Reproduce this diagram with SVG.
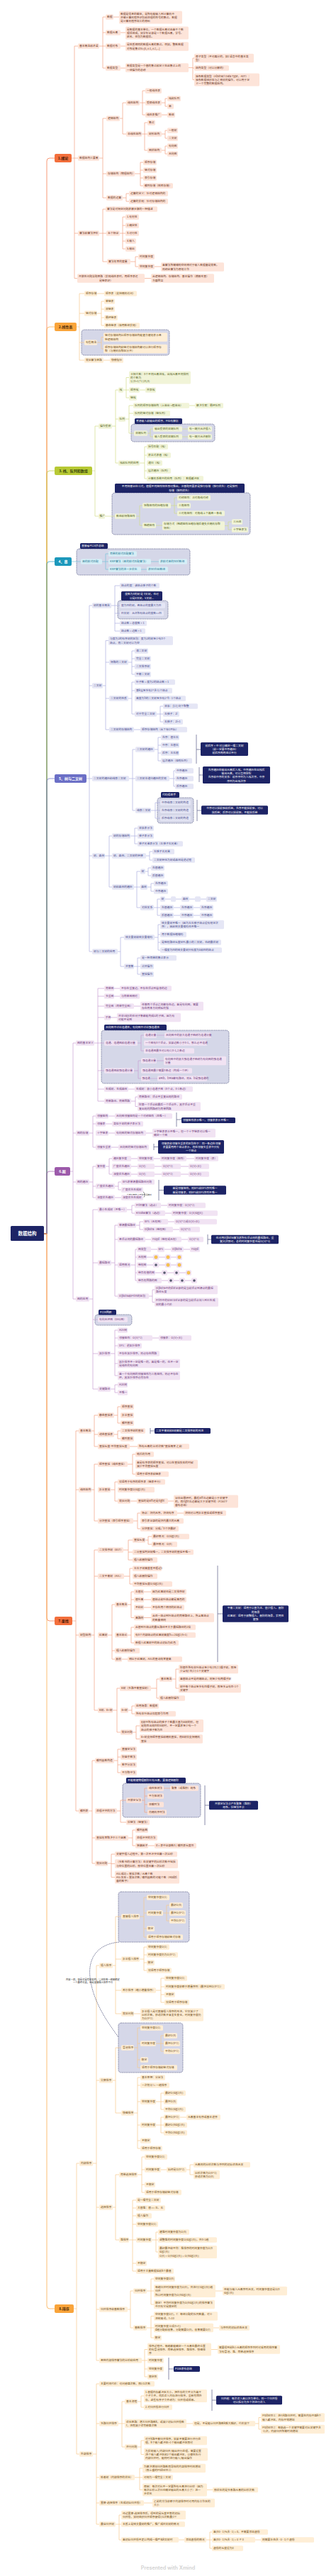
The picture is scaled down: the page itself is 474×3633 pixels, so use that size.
<svg xmlns="http://www.w3.org/2000/svg" width="474" height="3633" viewBox="0 0 474 3633">
<style>
text{font-family:"Noto Sans CJK SC","Noto Sans",sans-serif;font-size:3.8px}
.n rect{rx:1.5px}
.a1 .n rect{fill:#fde4d9}.a1 .n text{fill:#6a3320}
.a2 .n rect{fill:#feeed6}.a2 .n text{fill:#6e4a12}
.a3 .n rect{fill:#f1f4d8}.a3 .n text{fill:#55621a}
.a4 .n rect{fill:#d6eef6}.a4 .n text{fill:#1f7894}
.a5 .n rect{fill:#e5e6f5}.a5 .n text{fill:#45488a}
.a6 .n rect{fill:#f1e3f3}.a6 .n text{fill:#6e3a79}
.c rect{fill:#1d2466;rx:1.5px}.c text{fill:#fff}
.b text{font-size:5px;font-weight:bold;text-anchor:middle}
.bd{fill:#d5d7e8;stroke:#3d426f;stroke-width:.6;stroke-dasharray:1.6 .9}
#connectors path{fill:none;stroke-width:.7}
.l1{stroke:#f2a283}.l2{stroke:#f6c98c}.l3{stroke:#d3dc8a}.l4{stroke:#78c3da}.l5{stroke:#aeb0df}.l6{stroke:#c99fd2}
#summaries path{fill:none;stroke:#6d7096;stroke-width:.8}
.mid{text-anchor:middle}
.ok{fill:#f9c74f;stroke:#e09a1e;stroke-width:.4}.bad{fill:#565a6e}
</style>
<rect x="0" y="0" width="474" height="3633" fill="#fff"/>

<g id="boundaries">
<rect class="bd" x="115" y="465" width="124" height="36" rx="4"/>
<rect class="bd" x="185" y="598" width="118" height="25" rx="4"/>
<rect class="bd" x="158" y="695" width="195" height="59" rx="4"/>
<rect class="bd" x="108" y="774" width="160" height="37" rx="4"/>
<rect class="bd" x="166" y="847" width="71" height="26" rx="4"/>
<rect class="bd" x="222" y="1125" width="51" height="36" rx="4"/>
<rect class="bd" x="143" y="1453" width="180" height="75" rx="4"/>
<rect class="bd" x="134" y="1854" width="52" height="15" rx="4"/>
<rect class="bd" x="173" y="2515" width="110" height="48" rx="4"/>
<rect class="bd" x="167" y="2668" width="100" height="71" rx="4"/>
<rect class="bd" x="167" y="2853" width="91" height="70" rx="4"/>
</g>

<g id="connectors">
<path stroke="#f36f3c" stroke-width="1" d="M62 1740 H66 V227 Q66 223 70 223 H77"/>
<path stroke="#f9a43a" stroke-width="1" d="M62 1740 H66 V465 Q66 461 70 461 H77"/>
<path stroke="#b7c934" stroke-width="1" d="M62 1740 H66 V668 Q66 664 70 664 H77"/>
<path stroke="#1c98bb" stroke-width="1" d="M62 1740 H66 V796 Q66 792 70 792 H77"/>
<path stroke="#6b6fc6" stroke-width="1" d="M62 1740 H66 V1102 Q66 1098 70 1098 H77"/>
<path stroke="#9c5aaa" stroke-width="1" d="M62 1740 H66 V1656 Q66 1652 70 1652 H77"/>
<path stroke="#f36f3c" stroke-width="1" d="M62 1740 H66 V2282 Q66 2286 70 2286 H77"/>
<path stroke="#f9a43a" stroke-width="1" d="M62 1740 H66 V3252 Q66 3256 70 3256 H77"/>

<path class="l1" d="M101 223 H105 M105 65 V392.5 M105 65 H110 M105 223 H110 M105 329 H110 M105 392.5 H109
M140 65 H145 M145 24 V96 M145 24 H149 M145 46 H149 M145 65 H149 M145 96 H149
M160 24 H168 M170 46 H177 M170 65 H177 M170 96 H177
M266 95.5 H272 M272 82 V112.5 M272 82 H274 M272 96 H274 M272 112.5 H274
M140 223 H145 M145 167 V279 M145 167 H150 M145 245 H150 M145 279 H150
M169 167 H173 M173 145 V189 M173 145 H178 M173 189 H178
M197 145 H201 M201 128 V162 M201 128 H205 M201 145 H205 M201 162 H205
M228 145 H233 M233 139 V150 M233 139 H236 M233 150 H236 M228 162 H236
M200 189 H204 M204 173 V212 M204 173 H208 M204 189 H208 M204 212 H208
M228 189 H233 M233 184 V195 M233 184 H236 M233 195 H236
M228 212 H233 M233 206 V217 M233 206 H236 M233 217 H236
M190 245 H198 M198 229 V262 M198 229 H202 M198 240 H202 M198 251 H202 M198 262 H202
M173 279 H178 M178 273 V284 M178 273 H182 M178 284 H182
M140 329 H145 M145 295 V369 M145 295 H149 M145 329 H150 M145 369 H151
M169 329 H177 M173 306 V351 M173 306 H177 M173 318 H177 M173 340 H177 M173 351 H177
M184 369 H191 M191 362 V376 M191 362 H195 M191 376 H195
M218 376 H227 M204 392.5 H213"/>

<path class="l2" d="M108 461 H112 M112 414 V508 M112 414 H119 M112 442 H119 M112 483 H119 M112 508 H119
M137 414 H147 M137 442 H143 M143 425 V459 M143 425 H147 M143 436 H147 M143 448 H147 M143 459 H147
M137 483 H143 M143 475.5 V492 M143 475.5 H146 M143 492 H146 M146 508 H155"/>

<path class="l3" d="M130 664 H134 M134 601 V728 M134 601 H139 M134 728 H139
M158 601 H163 M163 550 V653 M163 550 H167 M163 591 H167 M163 653 H167
M174 550 H178 M178 532.5 V561 M178 532.5 H182 M178 550 H182 M178 561 H182 M197 550 H205
M177 591 H182 M182 572 V611 M182 572 H188 M182 583 H188 M182 611 H189 M267 572 H275
M208 611 H212 M212 605 V616 M212 605 H216 M212 616 H216 M257 605 H265 M257 616 H265
M197 653 H204 M204 630 V675 M204 630 H207 M204 642 H207 M204 664 H207 M204 675 H207
M148 728 H162 M192 728 H197 M197 713 V741 M197 713 H201 M197 741 H201
M241 713 H246 M246 702 V724 M246 702 H250 M246 713 H250 M246 724 H250
M220 741 H229 M317 741.5 H322 M322 736 V747 M322 736 H327 M322 747 H327"/>

<path class="l4" d="M101 792 H114 M144 792 H149 M149 781 V803 M149 781 H153 M149 792 H153 M149 803 H153 M213 792 H224 M199 803 H207"/>

<path class="l5" d="M122 1098 H126 M126 854 V1342 M126 854 H130 M126 967 H130 M126 1098 H130 M126 1207 H130 M126 1342 H130
M157 854 H162 M162 826 V890 M162 826 H169 M162 854 H169 M162 865 H169 M162 879 H169 M162 890 H169
M145 967 H149 M149 903.5 V1029 M149 903.5 H153 M149 934 H154 M149 985 H154 M149 1029 H154
M181 934 H186 M186 918 V951 M186 918 H190 M186 929 H190 M186 940 H190 M186 951 H190
M181 985 H186 M186 962 V1007 M186 962 H190 M186 974 H190 M186 1007 H190
M221 1007 H226 M226 996 V1018 M226 996 H230 M226 1007 H230 M226 1018 H230 M189 1029 H198
M182 1098 H187 M187 1057 V1143 M187 1057 H191 M187 1098 H191 M187 1143 H191
M218 1057 H223 M223 1040 V1073 M223 1040 H227 M223 1051 H227 M223 1062 H227 M223 1073 H227
M239 1098 H245 M245 1087 V1109 M245 1087 H247 M245 1098 H247 M245 1109 H247
M213 1143 H219 M219 1132 V1154 M219 1132 H226 M219 1143 H226 M219 1154 H226
M148 1207 H154 M154 1179 V1251 M154 1179 H158 M154 1207 H158 M154 1251 H158
M184 1179 H190 M190 1168 V1190 M190 1168 H194 M190 1179 H194 M190 1190 H194
M206 1207 H211 M211 1201 V1213 M211 1201 H215 M211 1213 H215
M189 1251 H193 M193 1229 V1280 M193 1229 H198 M193 1251 H198 M193 1280 H198
M205 1229 H209 M209 1224 V1235 M209 1224 H213 M209 1235 H213
M208 1251 H213 M213 1246 V1257 M213 1246 H217 M213 1257 H217
M217 1280 H222 M222 1268 V1291 M222 1268 H226 M222 1280 H226 M222 1291 H226
M233 1268 H241 M248 1268 H256 M267 1268 H275 M283 1268 H291
M245 1280 H254 M273 1280 H282 M245 1291 H254 M273 1291 H282
M166 1342 H170 M170 1322 V1363 M170 1322 H175 M170 1363 H175
M218 1322 H223 M223 1304 V1340 M223 1304 H226 M223 1318 H226 M223 1329 H226 M223 1340 H226
M189 1363 H194 M194 1351 V1374 M194 1351 H198 M194 1363 H198 M194 1374 H198"/>

<path class="l6" d="M99 1652 H103 M103 1471 V1832 M103 1471 H107 M103 1598 H107 M103 1667 H107 M103 1832 H107
M133 1471 H138 M138 1394 V1553 M138 1394 H147 M138 1405 H147 M138 1419 H147 M138 1435 H147 M138 1471 H147 M138 1510 H147 M138 1536 H147 M138 1553 H147
M161 1394 H169 M161 1405 H169 M189 1419 H198 M156 1435 H165
M194 1471 H199 M199 1460 V1482 M199 1460 H203 M199 1482 H203 M221 1460 H232
M189 1510 H195 M195 1496 V1521 M195 1496 H199 M195 1521 H199 M221 1496 H231 M212 1521 H222
M181 1536 H190 M185 1553 H191 M191 1547 V1560.5 M191 1547 H194 M191 1560.5 H194
M126 1598 H131 M131 1574 V1618 M131 1574 H135 M131 1585 H135 M131 1618 H135
M153 1574 H162 M149 1585 H158 M153 1598 H162 M206 1598 H215 M157 1618 H167
M126 1667 H131 M131 1645 V1689 M131 1645 H135 M131 1673 H135 M131 1689 H135
M149 1645 H154 M154 1634 V1656 M154 1634 H158 M154 1656 H158
M185 1634 H194 M217 1634 H226 M263 1634 H274
M185 1645 H194 M218 1645 H228 M255 1645 H266 M185 1656 H194 M218 1656 H228 M255 1656 H266
M162 1673 H167 M167 1667 V1678 M167 1667 H171 M167 1678 H171 M162 1689 H171
M126 1832 H131 M131 1706 V1959 M131 1706 H138 M131 1781 H138 M131 1861 H138 M131 1909 H138 M131 1959 H138
M179 1706 H186 M186 1700 V1711 M186 1700 H190 M186 1711 H190 M227 1700 H236 M233 1711 H242
M157 1781 H162 M162 1728 V1828 M162 1728 H166 M162 1748 H166 M162 1784 H166 M162 1828 H166
M192 1728 H197 M197 1723 V1734 M197 1723 H202 M197 1734 H202 M237 1723 H246 M244 1734 H253
M205 1748 H213 M256 1748 H265
M184 1784 H191 M191 1762 V1806 M191 1762 H193 M191 1773 H193 M191 1795 H193 M191 1806 H193
M213 1762 H222 M232 1762 H241 M259 1762 H268
M207 1773 H216 M224 1773 H233 M241 1773 H249 M207 1784 H216 M224 1784 H233 M241 1784 H249
M219 1795 H228 M236 1795 H245 M253 1795 H262 M228 1806 H237 M245 1806 H253 M261 1806 H270
M210 1828 H215 M215 1819 V1836.5 M215 1819 H218 M215 1836.5 H218
M156 1909 H162 M162 1876 V1940 M162 1876 H166 M162 1887 H166 M162 1898 H166 M162 1923 H166 M162 1940 H166 M215 1887 H224
M156 1959 H162 M162 1953 V1964 M162 1953 H166 M162 1964 H166"/>

<path class="l1" d="M102 2286 H107 M107 2018 V2554 M107 2018 H111 M107 2101 H111 M107 2306 H111 M107 2554 H111
M129 2018 H133 M133 1996 V2040 M133 1996 H138 M133 2023 H138 M133 2040 H138
M161 1996 H166 M166 1984 V2007 M166 1984 H170 M166 2007 H170
M161 2023 H166 M166 2018 V2029 M166 2018 H170 M166 2029 H170 M183 2040 H194
M129 2101 H133 M133 2065 V2145 M133 2065 H138 M133 2145 H138
M180 2065 H187 M187 2051 V2079 M187 2051 H191 M187 2079 H191
M156 2101 H162 M162 2090 V2117 M162 2090 H166 M162 2117 H166 M184 2117 H193 M237 2117 H245
M188 2145 H194 M194 2134 V2156 M194 2134 H198 M194 2156 H198 M250 2134 H259
M129 2306 H133 M133 2186 V2412 M133 2186 H138 M133 2223 H138 M133 2412 H138
M174 2186 H181 M181 2172 V2200 M181 2172 H187 M181 2189 H187 M181 2200 H187
M205 2172 H209 M209 2167 V2178 M209 2167 H214 M209 2178 H214
M175 2223 H183 M183 2212 V2234 M183 2212 H187 M183 2234 H187
M152 2306 H158 M158 2263 V2340 M158 2263 H162 M158 2328 H162 M158 2340 H162
M180 2263 H185 M185 2245 V2281.5 M185 2245 H189 M185 2256 H189 M185 2281.5 H189
M203 2245 H213 M203 2256 H213 M203 2267 H213 M203 2281.5 H213
M180 2306 H185 M185 2295 V2317 M185 2295 H189 M185 2317 H189 M172 2340 H180
M159 2412 H165 M165 2381 V2443 M165 2381 H169 M165 2443 H170
M213 2381 H221 M221 2368 V2395 M221 2368 H225 M221 2395 H224
M243 2368 H248 M248 2354 V2381 M248 2354 H252 M248 2381 H252
M181 2412 H186 M186 2406 V2417 M186 2406 H190 M186 2417 H190
M187 2443 H192 M192 2434 V2452.5 M192 2434 H197 M192 2452.5 H197
M125 2554 H130 M130 2483 V2628 M130 2483 H134 M130 2592 H134 M130 2628 H134
M161 2483 H166 M166 2467 V2500 M166 2467 H170 M166 2478 H170 M166 2489 H170 M166 2500 H170
M165 2554 H170 M170 2539 V2570 M170 2539 H178 M170 2570 H178
M200 2539 H204 M204 2522 V2556 M204 2522 H208 M204 2533 H208 M204 2545 H208 M204 2556 H208 M231 2522 H240
M181 2592 H187 M187 2581 V2603 M187 2581 H191 M187 2603 H191 M209 2603 H218
M152 2628 H157 M157 2615 V2647.5 M157 2615 H162 M157 2628.5 H162 M157 2647.5 H162"/>

<path class="l2" d="M104 3256 H108 M108 3051 V3461 M108 3051 H112 M108 3461 H112
M131 3051 H136 M136 2772 V3329 M136 2772 H140 M136 2934 H140 M136 3113 H140 M136 3257 H140 M136 3329 H140
M159 2772 H163 M163 2703 V2840 M163 2703 H171 M163 2763 H171 M163 2807 H171 M163 2840 H171
M197 2703 H203 M203 2676 V2732 M203 2676 H207 M203 2698 H207 M203 2720 H207 M203 2732 H207
M230 2698 H239 M235 2687 V2709 M235 2687 H239 M235 2709 H239
M197 2763 H203 M203 2746 V2779 M203 2746 H207 M203 2757 H207 M203 2768 H207 M203 2779 H207
M220 2807 H227 M227 2790 V2824 M227 2790 H232 M227 2802 H232 M227 2813 H232 M227 2824 H232
M189 2840 H198
M159 2934 H163 M163 2888 V2980 M163 2888 H171 M163 2980 H171
M189 2888 H194 M194 2860 V2916 M194 2860 H198 M194 2882 H198 M194 2905 H198 M194 2916 H198
M220 2882 H227 M227 2871 V2893 M227 2871 H231 M227 2882 H231 M227 2893 H231
M189 2980 H194 M194 2930 V3030 M194 2930 H198 M194 2941 H198 M194 2964 H198 M194 2997 H198 M194 3019 H198 M194 3030 H198
M220 2964 H227 M227 2952 V2975 M227 2952 H231 M227 2964 H231 M227 2975 H231
M220 2997 H227 M227 2986 V3008 M227 2986 H231 M227 2997 H231 M227 3008 H231 M254 2986 H263
M159 3113 H163 M163 3067 V3159 M163 3067 H168 M163 3159 H168
M194 3067 H200 M200 3042 V3092 M200 3042 H204 M200 3060 H204 M200 3081 H204 M200 3092 H204 M227 3060 H235
M263 3060 H268 M268 3053 V3067 M268 3053 H273 M268 3067 H273
M182 3159 H187 M187 3103 V3203 M187 3103 H192 M187 3114 H192 M187 3125 H192 M187 3137 H192 M187 3159 H192 M187 3192 H192 M187 3203 H192
M214 3159 H220 M220 3148 V3176 M220 3148 H223 M220 3159 H223 M220 3176 H223
M180 3257 H184 M184 3231 V3283 M184 3231 H188 M184 3283 H188
M207 3231 H213 M213 3214 V3250 M213 3214 H217 M213 3231 H217 M213 3250 H217 M304 3231 H314
M207 3283 H213 M213 3266.5 V3297 M213 3266.5 H217 M213 3283 H217 M213 3297 H217 M301 3283 H309
M200 3329 H204 M204 3313.5 V3352 M204 3313.5 H208 M204 3329 H208 M204 3341 H208 M204 3352 H208 M298 3313.5 H307
M131 3461 H136 M136 3362 V3560 M136 3362 H140 M136 3418 H140 M136 3494 H140 M136 3530 H140 M136 3560 H140
M167 3418 H172 M172 3387 V3451 M172 3387 H176 M172 3418 H176 M172 3451 H176
M194 3387 H199 M199 3379 V3395 M199 3379 H203 M199 3395 H203
M263 3418 H272 M360 3418 H365 M365 3409.5 V3426 M365 3409.5 H368 M365 3426 H368
M194 3451 H199 M199 3442 V3461.5 M199 3442 H203 M199 3461.5 H203
M190 3494 H197 M197 3481 V3511.5 M197 3481 H201 M197 3494 H201 M197 3511.5 H201 M292 3511.5 H300
M203 3530 H215
M163 3560 H168 M168 3547 V3582 M168 3547 H171 M168 3560 H171 M168 3582 H171 M252 3582 H260
M291 3582 H296 M296 3571 V3594 M296 3571 H299 M296 3582 H299 M296 3594 H299 M360 3582 H368"/>

<path stroke="#444" stroke-width=".4" d="M202 1681 C205 1683 205 1686 203 1688.5"/>
<path stroke="#3d426f" stroke-width=".6" stroke-dasharray="1.6 .9" d="M168 2739 C135 2742 122 2765 128 2795 C134 2830 158 2860 167 2873"/>
</g>

<g id="summaries">
<path d="M277 1036 V1077 M277 1057 H283"/>
<path d="M281 1082 V1103 M281 1093 H286"/>
<path d="M278 1128 V1158 M278 1143 H284"/>
<path d="M249 1569 V1589 M249 1579 H256"/>
<path d="M217 1613 V1622 M217 1617.5 H223"/>
<path d="M224 1664 V1693 M224 1678.5 H231"/>
<path d="M293 1741 V1755 M293 1748 H298"/>
<path d="M212 2014 V2022 M212 2018 H218"/>
<path d="M307 2208 V2344 M307 2276 H314"/>
<path d="M289 2518 V2574 M289 2546 H295"/>
<path d="M238 3325 V3356 M238 3341 H245"/>
<path d="M299 3370 V3400 M299 3385 H305"/>
</g>

<g id="root"><rect x="15" y="1729" width="47" height="21" rx="1.5" fill="#1d2466"/><text x="38.5" y="1742.3" text-anchor="middle" fill="#fff" style="font-size:6.5px;font-weight:bold">数据结构</text></g>

<g id="b1" class="b"><rect x="77" y="217" width="24" height="12" rx="2" fill="#f36f3c"/><text x="89" y="224.8" fill="#4a1a08">1.绪论</text></g>
<g id="b2" class="b"><rect x="77" y="455" width="31" height="12" rx="2" fill="#f9a43a"/><text x="92.5" y="462.8" fill="#4a2a08">2.线性表</text></g>
<g id="b3" class="b"><rect x="77" y="658" width="53" height="12" rx="2" fill="#b7c934"/><text x="103.5" y="665.8" fill="#33400a">3. 栈、队列和数组</text></g>
<g id="b4" class="b"><rect x="77" y="786" width="24" height="12" rx="2" fill="#1c98bb"/><text x="89" y="793.8" fill="#fff">4、串</text></g>
<g id="b5" class="b"><rect x="77" y="1092" width="45" height="12" rx="2" fill="#6b6fc6"/><text x="99.5" y="1099.8" fill="#fff">5、树与二叉树</text></g>
<g id="b6" class="b"><rect x="77" y="1646" width="22" height="12" rx="2" fill="#9c5aaa"/><text x="88" y="1653.8" fill="#fff">6.图</text></g>
<g id="b7" class="b"><rect x="77" y="2280" width="25" height="12" rx="2" fill="#f36f3c"/><text x="89.5" y="2287.8" fill="#4a1a08">7.查找</text></g>
<g id="b8" class="b"><rect x="77" y="3250" width="27" height="12" rx="2" fill="#f9a43a"/><text x="90.5" y="3257.8" fill="#4a2a08">8.排序</text></g>

<g class="a1">
<g id="n1-01" class="n"><rect x="110" y="61.3" width="30" height="7.4"/><text x="112" y="66.4">基本概念和术语</text></g>
<g id="n1-02" class="n"><rect x="110" y="219.3" width="30" height="7.4"/><text x="112" y="224.4">数据结构三要素</text></g>
<g id="n1-03" class="n"><rect x="110" y="325.3" width="30" height="7.4"/><text x="112" y="330.4">算法和算法评价</text></g>
<g id="n1-04" class="n"><rect x="109" y="386.2" width="95" height="12.6"/><text x="111" y="391.25">开放性问题答题思路（实现线性表时，用顺序表还<tspan x="140" dy="5.3">是链表好）</tspan></text></g>
<g id="n1-05" class="n"><rect x="213" y="386.2" width="89" height="12.6"/><text x="215" y="391.25">从逻辑结构、存储结构、基本操作（增删改查）<tspan x="215" dy="5.3">方面回答</tspan></text></g>
<g id="n1-06" class="n"><rect x="149" y="20.3" width="11" height="7.4"/><text x="151" y="25.4">数据</text></g>
<g id="n1-07" class="n"><rect x="168" y="15.5" width="89" height="18"/><text x="170" y="20.6">数据是信息的载体，是所有能输入到计算机中<tspan x="170" dy="5.3">并被计算机程序识别和处理的符号的集合。数据</tspan><tspan x="170" dy="5.3">是计算机程序加工的原料</tspan></text></g>
<g id="n1-08" class="n"><rect x="149" y="42.3" width="21" height="7.4"/><text x="151" y="47.4">数据元素</text></g>
<g id="n1-09" class="n"><rect x="177" y="37.5" width="89" height="18"/><text x="179" y="42.6">是数据的基本单位，一个数据元素可由若干个数<tspan x="179" dy="5.3">据项组成，如学生记录是一个数据元素，学号、</tspan><tspan x="179" dy="5.3">姓名、性别为数据项。</tspan></text></g>
<g id="n1-10" class="n"><rect x="149" y="61.3" width="21" height="7.4"/><text x="151" y="66.4">数据对象</text></g>
<g id="n1-11" class="n"><rect x="177" y="59.2" width="89" height="12.6"/><text x="179" y="64.25">是性质相同的数据元素的集合。例如，整数数据<tspan x="179" dy="5.3">对象是集合N={0,±1,±2,...}</tspan></text></g>
<g id="n1-12" class="n"><rect x="149" y="92.3" width="21" height="7.4"/><text x="151" y="97.4">数据类型</text></g>
<g id="n1-13" class="n"><rect x="177" y="89.2" width="89" height="12.6"/><text x="179" y="94.25">数据类型是一个值的集合和定义在此集合上的<tspan x="179" dy="5.3">一组操作的总称</tspan></text></g>
<g id="n1-14" class="n"><rect x="274" y="75.7" width="84" height="12.6"/><text x="276" y="80.75">原子类型（不可再分的，如C语言中的基本类<tspan x="276" dy="5.3">型）</tspan></text></g>
<g id="n1-15" class="n"><rect x="274" y="92.3" width="49" height="7.4"/><text x="276" y="97.4">结构类型（可以分解的）</text></g>
<g id="n1-16" class="n"><rect x="274" y="103.5" width="92" height="18"/><text x="276" y="108.6">抽象数据类型（Abstract Data Type，ADT）：<tspan x="276" dy="5.3">抽象数据组织及与之相关的操作，可以用于定</tspan><tspan x="276" dy="5.3">义一个完整的数据结构。</tspan></text></g>
<g id="n1-17" class="n"><rect x="150" y="163.3" width="19" height="7.4"/><text x="152" y="168.4">逻辑结构</text></g>
<g id="n1-18" class="n"><rect x="178" y="141.3" width="19" height="7.4"/><text x="180" y="146.4">线性结构</text></g>
<g id="n1-19" class="n"><rect x="205" y="124.3" width="23" height="7.4"/><text x="207" y="129.4">一般线性表</text></g>
<g id="n1-20" class="n"><rect x="205" y="141.3" width="23" height="7.4"/><text x="207" y="146.4">受限线性表</text></g>
<g id="n1-21" class="n"><rect x="236" y="135.3" width="19" height="7.4"/><text x="238" y="140.4">栈和队列</text></g>
<g id="n1-22" class="n"><rect x="236" y="146.3" width="9" height="7.4"/><text x="238" y="151.4">串</text></g>
<g id="n1-23" class="n"><rect x="205" y="158.3" width="23" height="7.4"/><text x="207" y="163.4">线性表推广</text></g>
<g id="n1-24" class="n"><rect x="236" y="158.3" width="11" height="7.4"/><text x="238" y="163.4">数组</text></g>
<g id="n1-25" class="n"><rect x="178" y="185.3" width="22" height="7.4"/><text x="180" y="190.4">非线性结构</text></g>
<g id="n1-26" class="n"><rect x="208" y="169.3" width="11" height="7.4"/><text x="210" y="174.4">集合</text></g>
<g id="n1-27" class="n"><rect x="208" y="185.3" width="20" height="7.4"/><text x="210" y="190.4">树形结构</text></g>
<g id="n1-28" class="n"><rect x="236" y="180.3" width="15" height="7.4"/><text x="238" y="185.4">一般树</text></g>
<g id="n1-29" class="n"><rect x="236" y="191.3" width="15" height="7.4"/><text x="238" y="196.4">二叉树</text></g>
<g id="n1-30" class="n"><rect x="208" y="208.3" width="20" height="7.4"/><text x="210" y="213.4">图状结构</text></g>
<g id="n1-31" class="n"><rect x="236" y="202.3" width="15" height="7.4"/><text x="238" y="207.4">有向图</text></g>
<g id="n1-32" class="n"><rect x="236" y="213.3" width="15" height="7.4"/><text x="238" y="218.4">无向图</text></g>
<g id="n1-33" class="n"><rect x="150" y="241.3" width="40" height="7.4"/><text x="152" y="246.4">存储结构（物理结构）</text></g>
<g id="n1-34" class="n"><rect x="202" y="225.3" width="19" height="7.4"/><text x="204" y="230.4">顺序存储</text></g>
<g id="n1-35" class="n"><rect x="202" y="236.3" width="19" height="7.4"/><text x="204" y="241.4">链式存储</text></g>
<g id="n1-36" class="n"><rect x="202" y="247.3" width="19" height="7.4"/><text x="204" y="252.4">索引存储</text></g>
<g id="n1-37" class="n"><rect x="202" y="258.3" width="42" height="7.4"/><text x="204" y="263.4">散列存储（哈希存储）</text></g>
<g id="n1-38" class="n"><rect x="150" y="275.3" width="23" height="7.4"/><text x="152" y="280.4">数据的运算</text></g>
<g id="n1-39" class="n"><rect x="182" y="269.3" width="55" height="7.4"/><text x="184" y="274.4">运算的定义：针对逻辑结构的</text></g>
<g id="n1-40" class="n"><rect x="182" y="280.3" width="55" height="7.4"/><text x="184" y="285.4">运算的实现：针对存储结构的</text></g>
<g id="n1-41" class="n"><rect x="149" y="291.3" width="73" height="7.4"/><text x="151" y="296.4">算法是对特定问题求解步骤的一种描述</text></g>
<g id="n1-42" class="n"><rect x="150" y="325.3" width="19" height="7.4"/><text x="152" y="330.4">五个特征</text></g>
<g id="n1-43" class="n"><rect x="177" y="302.3" width="19" height="7.4"/><text x="179" y="307.4">1.有穷性</text></g>
<g id="n1-44" class="n"><rect x="177" y="314.3" width="19" height="7.4"/><text x="179" y="319.4">2.确定性</text></g>
<g id="n1-45" class="n"><rect x="177" y="325.3" width="19" height="7.4"/><text x="179" y="330.4">3.可行性</text></g>
<g id="n1-46" class="n"><rect x="177" y="336.3" width="15" height="7.4"/><text x="179" y="341.4">4.输入</text></g>
<g id="n1-47" class="n"><rect x="177" y="347.3" width="15" height="7.4"/><text x="179" y="352.4">5.输出</text></g>
<g id="n1-48" class="n"><rect x="151" y="365.3" width="33" height="7.4"/><text x="153" y="370.4">算法效率的度量</text></g>
<g id="n1-49" class="n"><rect x="195" y="358.3" width="23" height="7.4"/><text x="197" y="363.4">时间复杂度</text></g>
<g id="n1-50" class="n"><rect x="195" y="372.3" width="23" height="7.4"/><text x="197" y="377.4">空间复杂度</text></g>
<g id="n1-51" class="n"><rect x="227" y="370.2" width="89" height="12.6"/><text x="229" y="375.25">若算法所需辅助空间相对于输入数据量是常数，<tspan x="229" dy="5.3">则称此算法为原地工作</tspan></text></g>
</g>

<g class="a2">
<g id="n2-01" class="n"><rect x="119" y="410.3" width="18" height="7.4"/><text x="121" y="415.4">顺序存储</text></g>
<g id="n2-02" class="n"><rect x="147" y="410.3" width="46" height="7.4"/><text x="149" y="415.4">顺序表（支持随机访问）</text></g>
<g id="n2-03" class="n"><rect x="119" y="438.3" width="18" height="7.4"/><text x="121" y="443.4">链式存储</text></g>
<g id="n2-04" class="n"><rect x="147" y="421.3" width="15" height="7.4"/><text x="149" y="426.4">单链表</text></g>
<g id="n2-05" class="n"><rect x="147" y="432.3" width="15" height="7.4"/><text x="149" y="437.4">双链表</text></g>
<g id="n2-06" class="n"><rect x="147" y="444.3" width="19" height="7.4"/><text x="149" y="449.4">循环链表</text></g>
<g id="n2-07" class="n"><rect x="147" y="455.3" width="50" height="7.4"/><text x="149" y="460.4">静态链表（借用数组实现）</text></g>
<g id="n2-08" class="n"><rect x="119" y="479.3" width="18" height="7.4"/><text x="121" y="484.4">有些概念</text></g>
<g id="n2-09" class="n"><rect x="146" y="469.2" width="90" height="12.6"/><text x="148" y="474.25">链式存储结构比顺序存储结构能更方便地表示各<tspan x="148" dy="5.3">种逻辑结构</tspan></text></g>
<g id="n2-10" class="n"><rect x="146" y="485.7" width="90" height="12.6"/><text x="148" y="490.75">顺序存储结构和链式存储结构都可以进行顺序存<tspan x="148" dy="5.3">取（与随机存取区分开）</tspan></text></g>
<g id="n2-11" class="n"><rect x="119" y="504.3" width="27" height="7.4"/><text x="121" y="509.4">常见算法思路</text></g>
<g id="n2-12" class="n"><rect x="155" y="504.3" width="19" height="7.4"/><text x="157" y="509.4">快慢指针</text></g>
</g>

<g class="a3">
<g id="n3-01" class="n"><rect x="139" y="597.3" width="19" height="7.4"/><text x="141" y="602.4">操作受限</text></g>
<g id="n3-02" class="n"><rect x="167" y="546.3" width="7" height="7.4"/><text x="168.6" y="551.4">栈</text></g>
<g id="n3-03" class="n"><rect x="182" y="523.5" width="87" height="18"/><text x="184" y="528.6">卡特兰数：n个不同元素进栈，出栈元素不同排列<tspan x="184" dy="5.3">的个数为</tspan><tspan x="184" dy="5.3">1/(n+1)*C(2n,n)</tspan></text></g>
<g id="n3-04" class="n"><rect x="182" y="546.3" width="15" height="7.4"/><text x="184" y="551.4">顺序栈</text></g>
<g id="n3-05" class="n"><rect x="205" y="546.3" width="15" height="7.4"/><text x="207" y="551.4">共享栈</text></g>
<g id="n3-06" class="n"><rect x="182" y="557.3" width="11" height="7.4"/><text x="184" y="562.4">链栈</text></g>
<g id="n3-07" class="n"><rect x="167" y="587.3" width="10" height="7.4"/><text x="168.5" y="592.4">队列</text></g>
<g id="n3-08" class="n"><rect x="188" y="568.3" width="79" height="7.4"/><text x="190" y="573.4">队列的顺序存储结构（上溢出-&gt;假溢出）</text></g>
<g id="n3-09" class="n"><rect x="275" y="568.3" width="40" height="7.4"/><text x="277" y="573.4">解决方案：循环队列</text></g>
<g id="n3-10" class="n"><rect x="188" y="579.3" width="52" height="7.4"/><text x="190" y="584.4">队列的链式存储（链队列）</text></g>
<g id="n3-11" class="c"><rect x="190" y="590" width="67" height="8"/><text x="192" y="595.4">考虑输入和输出的顺序，P85有解析</text></g>
<g id="n3-12" class="n"><rect x="189" y="607.3" width="19" height="7.4"/><text x="191" y="612.4">双端队列</text></g>
<g id="n3-13" class="n"><rect x="216" y="601.3" width="41" height="7.4"/><text x="218" y="606.4">输出受限的双端队列</text></g>
<g id="n3-14" class="n"><rect x="265" y="601.3" width="34" height="7.4"/><text x="267" y="606.4">有一端只允许插入</text></g>
<g id="n3-15" class="n"><rect x="216" y="612.3" width="41" height="7.4"/><text x="218" y="617.4">输入受限的双端队列</text></g>
<g id="n3-16" class="n"><rect x="265" y="612.3" width="34" height="7.4"/><text x="267" y="617.4">有一端只允许删除</text></g>
<g id="n3-17" class="n"><rect x="167" y="649.3" width="30" height="7.4"/><text x="169" y="654.4">栈和队列的应用</text></g>
<g id="n3-18" class="n"><rect x="207" y="626.3" width="30" height="7.4"/><text x="209" y="631.4">括号匹配（栈）</text></g>
<g id="n3-19" class="n"><rect x="207" y="638.3" width="34" height="7.4"/><text x="209" y="643.4">表达式求值（栈）</text></g>
<g id="n3-20" class="n"><rect x="207" y="649.3" width="22" height="7.4"/><text x="209" y="654.4">递归（栈）</text></g>
<g id="n3-21" class="n"><rect x="207" y="660.3" width="34" height="7.4"/><text x="209" y="665.4">层次遍历（队列）</text></g>
<g id="n3-22" class="n"><rect x="207" y="671.3" width="80" height="7.4"/><text x="209" y="676.4">计算机系统中的应用（队列）：数据缓冲区</text></g>
<g id="n3-23" class="n"><rect x="139" y="724.3" width="9" height="7.4"/><text x="140.6" y="729.4">推广</text></g>
<g id="n3-24" class="c"><rect x="162" y="682" width="183" height="13"/><text x="253.5" y="687.4" class="mid">不用特意记住公式，根据不同矩阵特性即可推出，注意题目要求是按行存储（按行优先）还是按列<tspan x="253.5" dy="5.3">存储（按列优先）</tspan></text></g>
<g id="n3-25" class="n"><rect x="162" y="724.3" width="30" height="7.4"/><text x="164" y="729.4">数组和特殊矩阵</text></g>
<g id="n3-26" class="n"><rect x="201" y="709.3" width="40" height="7.4"/><text x="203" y="714.4">特殊矩阵的压缩存储</text></g>
<g id="n3-27" class="n"><rect x="250" y="698.3" width="47" height="7.4"/><text x="252" y="703.4">对称矩阵：沿对角线对称</text></g>
<g id="n3-28" class="n"><rect x="250" y="709.3" width="19" height="7.4"/><text x="252" y="714.4">三角矩阵</text></g>
<g id="n3-29" class="n"><rect x="250" y="720.3" width="67" height="7.4"/><text x="252" y="725.4">三对角矩阵：对角线上下再各一条线</text></g>
<g id="n3-30" class="n"><rect x="201" y="737.3" width="19" height="7.4"/><text x="203" y="742.4">稀疏矩阵</text></g>
<g id="n3-31" class="n"><rect x="229" y="735.2" width="88" height="12.6"/><text x="231" y="740.25">存储方式（稀疏矩阵压缩存储后便失去随机存取<tspan x="231" dy="5.3">特性）</tspan></text></g>
<g id="n3-32" class="n"><rect x="327" y="732.3" width="15" height="7.4"/><text x="329" y="737.4">三元组</text></g>
<g id="n3-33" class="n"><rect x="327" y="743.3" width="23" height="7.4"/><text x="329" y="748.4">十字链表法</text></g>
</g>

<g class="a4">
<g id="n4-01" class="c"><rect x="113" y="766" width="39" height="8"/><text x="115" y="771.4">直接看P124页总结</text></g>
<g id="n4-02" class="n"><rect x="114" y="788.3" width="30" height="7.4"/><text x="116" y="793.4">串的模式匹配</text></g>
<g id="n4-03" class="n"><rect x="153" y="777.3" width="40" height="7.4"/><text x="155" y="782.4">简单的模式匹配算法</text></g>
<g id="n4-04" class="n"><rect x="153" y="788.3" width="60" height="7.4"/><text x="155" y="793.4">KMP算法（串的模式匹配算法）</text></g>
<g id="n4-05" class="n"><rect x="224" y="788.3" width="40" height="7.4"/><text x="226" y="793.4">求模式串的next数组</text></g>
<g id="n4-06" class="n"><rect x="153" y="799.3" width="46" height="7.4"/><text x="155" y="804.4">KMP算法的进一步优化</text></g>
<g id="n4-07" class="n"><rect x="207" y="799.3" width="30" height="7.4"/><text x="209" y="804.4">求nextval数组</text></g>
</g>

<g class="a5">
<g id="n5-01" class="n"><rect x="130" y="850.3" width="27" height="7.4"/><text x="132" y="855.4">树的基本概念</text></g>
<g id="n5-02" class="n"><rect x="169" y="822.3" width="56" height="7.4"/><text x="171" y="827.4">结点的度：该结点孩子的个数</text></g>
<g id="n5-03" class="c"><rect x="171" y="834" width="58" height="13"/><text x="200" y="839.25" class="mid">度数为3的树 是 3叉树，也可<tspan x="200" dy="5.3">以是4叉树，5叉树...</tspan></text></g>
<g id="n5-04" class="n"><rect x="169" y="850.3" width="64" height="7.4"/><text x="171" y="855.4">度为m的树，各结点的度最大为m</text></g>
<g id="n5-05" class="n"><rect x="169" y="861.3" width="62" height="7.4"/><text x="171" y="866.4">m叉树：允许所有结点的度数&lt;=m</text></g>
<g id="n5-06" class="n"><rect x="169" y="875.3" width="38" height="7.4"/><text x="171" y="880.4">结点数 = 总度数 + 1</text></g>
<g id="n5-07" class="n"><rect x="169" y="886.3" width="36" height="7.4"/><text x="171" y="891.4">结点数 = 边数 + 1</text></g>
<g id="n5-08" class="n"><rect x="130" y="963.3" width="15" height="7.4"/><text x="132" y="968.4">二叉树</text></g>
<g id="n5-09" class="n"><rect x="153" y="897.2" width="91" height="12.6"/><text x="155" y="902.25">与度为2的有序树的区别：度为2的树至少有3个<tspan x="155" dy="5.3">结点，而二叉树可以为空</tspan></text></g>
<g id="n5-10" class="n"><rect x="154" y="930.3" width="27" height="7.4"/><text x="156" y="935.4">特殊的二叉树</text></g>
<g id="n5-11" class="n"><rect x="190" y="914.3" width="19" height="7.4"/><text x="192" y="919.4">满二叉树</text></g>
<g id="n5-12" class="n"><rect x="190" y="925.3" width="23" height="7.4"/><text x="192" y="930.4">完全二叉树</text></g>
<g id="n5-13" class="n"><rect x="190" y="936.3" width="23" height="7.4"/><text x="192" y="941.4">二叉排序树</text></g>
<g id="n5-14" class="n"><rect x="190" y="947.3" width="23" height="7.4"/><text x="192" y="952.4">平衡二叉树</text></g>
<g id="n5-15" class="n"><rect x="154" y="981.3" width="27" height="7.4"/><text x="156" y="986.4">二叉树的性质</text></g>
<g id="n5-16" class="n"><rect x="190" y="958.3" width="57" height="7.4"/><text x="192" y="963.4">叶子数 = 度为2的结点数 + 1</text></g>
<g id="n5-17" class="n"><rect x="190" y="970.3" width="53" height="7.4"/><text x="192" y="975.4">第k层至多有2^(k-1)个结点</text></g>
<g id="n5-18" class="n"><rect x="190" y="981.3" width="72" height="7.4"/><text x="192" y="986.4">高度为h的二叉树至多有2^h - 1个结点</text></g>
<g id="n5-19" class="n"><rect x="190" y="1003.3" width="31" height="7.4"/><text x="192" y="1008.4">对于完全二叉树</text></g>
<g id="n5-20" class="n"><rect x="230" y="992.3" width="49" height="7.4"/><text x="232" y="997.4">双亲：[i/2] 向下取整</text></g>
<g id="n5-21" class="n"><rect x="230" y="1003.3" width="23" height="7.4"/><text x="232" y="1008.4">左孩子：2i</text></g>
<g id="n5-22" class="n"><rect x="230" y="1014.3" width="28" height="7.4"/><text x="232" y="1019.4">右孩子：2i+1</text></g>
<g id="n5-23" class="n"><rect x="154" y="1025.3" width="35" height="7.4"/><text x="156" y="1030.4">二叉树的存储结构</text></g>
<g id="n5-24" class="n"><rect x="198" y="1025.3" width="66" height="7.4"/><text x="200" y="1030.4">顺序存储结构（从下标1开始）</text></g>
<g id="n5-25" class="n"><rect x="130" y="1094.3" width="52" height="7.4"/><text x="132" y="1099.4">二叉树的遍历和线索二叉树</text></g>
<g id="n5-26" class="n"><rect x="191" y="1053.3" width="27" height="7.4"/><text x="193" y="1058.4">二叉树的遍历</text></g>
<g id="n5-27" class="n"><rect x="227" y="1036.3" width="26" height="7.4"/><text x="229" y="1041.4">先序：根左右</text></g>
<g id="n5-28" class="n"><rect x="227" y="1047.3" width="26" height="7.4"/><text x="229" y="1052.4">中序：左根右</text></g>
<g id="n5-29" class="n"><rect x="227" y="1058.3" width="26" height="7.4"/><text x="229" y="1063.4">后序：左右根</text></g>
<g id="n5-30" class="n"><rect x="227" y="1069.3" width="44" height="7.4"/><text x="229" y="1074.4">层次遍历（借助队列）</text></g>
<g id="n5-31" class="c"><rect x="283" y="1047" width="67" height="19"/><text x="316.5" y="1052.6" class="mid">前后序 + 中 可以确定一棵二叉树<tspan x="316.5" dy="5.3">（前一定要中序遍历）</tspan><tspan x="316.5" dy="5.3">前后序两两组合不行</tspan></text></g>
<g id="n5-32" class="n"><rect x="191" y="1094.3" width="48" height="7.4"/><text x="193" y="1099.4">二叉树非递归遍历的实现</text></g>
<g id="n5-33" class="n"><rect x="247" y="1083.3" width="26" height="7.4"/><text x="249" y="1088.4">中序遍历</text></g>
<g id="n5-34" class="n"><rect x="247" y="1094.3" width="26" height="7.4"/><text x="249" y="1099.4">先序遍历</text></g>
<g id="n5-35" class="n"><rect x="247" y="1105.3" width="26" height="7.4"/><text x="249" y="1110.4">后序遍历</text></g>
<g id="n5-36" class="c"><rect x="286" y="1081" width="95" height="24"/><text x="333.5" y="1086.7" class="mid">先序遍历在输出元素后入栈，中序遍历在出栈后<tspan x="333.5" dy="5.3">输出元素，可以互相参照</tspan><tspan x="333.5" dy="5.3">先序和中序的关系：前序序列为入栈次序，中序</tspan><tspan x="333.5" dy="5.3">序列为出栈次序</tspan></text></g>
<g id="n5-37" class="n"><rect x="191" y="1139.3" width="22" height="7.4"/><text x="193" y="1144.4">线索二叉树</text></g>
<g id="n5-38" class="c"><rect x="227" y="1117" width="26" height="8"/><text x="229" y="1122.4">代码得练手</text></g>
<g id="n5-39" class="n"><rect x="226" y="1128.3" width="43" height="7.4"/><text x="228" y="1133.4">中序线索二叉树的构造</text></g>
<g id="n5-40" class="n"><rect x="226" y="1139.3" width="43" height="7.4"/><text x="228" y="1144.4">先序线索二叉树的构造</text></g>
<g id="n5-41" class="n"><rect x="226" y="1150.3" width="43" height="7.4"/><text x="228" y="1155.4">后序线索二叉树的构造</text></g>
<g id="n5-42" class="c"><rect x="284" y="1136.2" width="94" height="12.6"/><text x="331" y="1141.25" class="mid">中序可以找前驱和后继，先序不能找前驱，可以<tspan x="331" dy="5.3">找后继；后序可以找前驱，不能找后继</tspan></text></g>
<g id="n5-43" class="n"><rect x="130" y="1203.3" width="18" height="7.4"/><text x="132" y="1208.4">树、森林</text></g>
<g id="n5-44" class="n"><rect x="158" y="1175.3" width="26" height="7.4"/><text x="160" y="1180.4">树的存储结构</text></g>
<g id="n5-45" class="n"><rect x="194" y="1164.3" width="23" height="7.4"/><text x="196" y="1169.4">双亲表示法</text></g>
<g id="n5-46" class="n"><rect x="194" y="1175.3" width="23" height="7.4"/><text x="196" y="1180.4">孩子表示法</text></g>
<g id="n5-47" class="n"><rect x="194" y="1186.3" width="64" height="7.4"/><text x="196" y="1191.4">孩子兄弟表示法（左孩子右兄弟）</text></g>
<g id="n5-48" class="n"><rect x="158" y="1203.3" width="48" height="7.4"/><text x="160" y="1208.4">树、森林、二叉树的转换</text></g>
<g id="n5-49" class="n"><rect x="215" y="1197.3" width="31" height="7.4"/><text x="217" y="1202.4">左孩子右兄弟</text></g>
<g id="n5-50" class="n"><rect x="215" y="1209.3" width="60" height="7.4"/><text x="217" y="1214.4">二叉树转化为树或森林是逆过程</text></g>
<g id="n5-51" class="n"><rect x="158" y="1247.3" width="31" height="7.4"/><text x="160" y="1252.4">树和森林的遍历</text></g>
<g id="n5-52" class="n"><rect x="198" y="1225.3" width="7" height="7.4"/><text x="199.6" y="1230.4">树</text></g>
<g id="n5-53" class="n"><rect x="213" y="1220.3" width="19" height="7.4"/><text x="215" y="1225.4">先根遍历</text></g>
<g id="n5-54" class="n"><rect x="213" y="1231.3" width="19" height="7.4"/><text x="215" y="1236.4">后根遍历</text></g>
<g id="n5-55" class="n"><rect x="198" y="1247.3" width="10" height="7.4"/><text x="199.3" y="1252.4">森林</text></g>
<g id="n5-56" class="n"><rect x="217" y="1242.3" width="20" height="7.4"/><text x="219" y="1247.4">先序遍历</text></g>
<g id="n5-57" class="n"><rect x="217" y="1253.3" width="20" height="7.4"/><text x="219" y="1258.4">中序遍历</text></g>
<g id="n5-58" class="n"><rect x="198" y="1276.3" width="19" height="7.4"/><text x="200" y="1281.4">对应关系</text></g>
<g id="n5-59" class="n"><rect x="226" y="1264.3" width="7" height="7.4"/><text x="227.6" y="1269.4">树</text></g>
<g id="n5-60" class="n"><rect x="241" y="1264.3" width="7" height="7.4"/></g>
<g id="n5-61" class="n"><rect x="256" y="1264.3" width="11" height="7.4"/><text x="257.7" y="1269.4">森林</text></g>
<g id="n5-62" class="n"><rect x="275" y="1264.3" width="8" height="7.4"/></g>
<g id="n5-63" class="n"><rect x="291" y="1264.3" width="15" height="7.4"/><text x="293" y="1269.4">二叉树</text></g>
<g id="n5-64" class="n"><rect x="226" y="1276.3" width="19" height="7.4"/><text x="228" y="1281.4">先根遍历</text></g>
<g id="n5-65" class="n"><rect x="254" y="1276.3" width="19" height="7.4"/><text x="256" y="1281.4">先序遍历</text></g>
<g id="n5-66" class="n"><rect x="282" y="1276.3" width="19" height="7.4"/><text x="284" y="1281.4">先序遍历</text></g>
<g id="n5-67" class="n"><rect x="226" y="1287.3" width="19" height="7.4"/><text x="228" y="1292.4">后根遍历</text></g>
<g id="n5-68" class="n"><rect x="254" y="1287.3" width="19" height="7.4"/><text x="256" y="1292.4">中序遍历</text></g>
<g id="n5-69" class="n"><rect x="282" y="1287.3" width="19" height="7.4"/><text x="284" y="1292.4">中序遍历</text></g>
<g id="n5-70" class="n"><rect x="130" y="1338.3" width="36" height="7.4"/><text x="132" y="1343.4">树与二叉树的应用</text></g>
<g id="n5-71" class="n"><rect x="175" y="1318.3" width="43" height="7.4"/><text x="177" y="1323.4">哈夫曼树和哈夫曼编码</text></g>
<g id="n5-72" class="n"><rect x="226" y="1297.7" width="90" height="12.6"/><text x="228" y="1302.75">哈夫曼树不唯一（因为左右孩子结点没有规定次<tspan x="228" dy="5.3">序），因此哈夫曼编码也不唯一</tspan></text></g>
<g id="n5-73" class="n"><rect x="226" y="1314.3" width="37" height="7.4"/><text x="228" y="1319.4">用于数据压缩编码</text></g>
<g id="n5-74" class="n"><rect x="226" y="1325.3" width="86" height="7.4"/><text x="228" y="1330.4">是带权路径长度WPL最小的二叉树，也称最优树</text></g>
<g id="n5-75" class="n"><rect x="226" y="1336.3" width="87" height="7.4"/><text x="228" y="1341.4">一棵度为m的哈夫曼树只有度为0和m的结点</text></g>
<g id="n5-76" class="n"><rect x="175" y="1359.3" width="14" height="7.4"/><text x="177" y="1364.4">并查集</text></g>
<g id="n5-77" class="n"><rect x="198" y="1347.3" width="51" height="7.4"/><text x="200" y="1352.4">是一种简单的集合表示</text></g>
<g id="n5-78" class="n"><rect x="198" y="1359.3" width="19" height="7.4"/><text x="200" y="1364.4">合并操作</text></g>
<g id="n5-79" class="n"><rect x="198" y="1370.3" width="19" height="7.4"/><text x="200" y="1375.4">查找操作</text></g>
</g>

<g class="a6">
<g id="n6-01" class="n"><rect x="107" y="1467.3" width="26" height="7.4"/><text x="109" y="1472.4">图的基本定义</text></g>
<g id="n6-02" class="n"><rect x="147" y="1390.3" width="14" height="7.4"/><text x="149" y="1395.4">简单图</text></g>
<g id="n6-03" class="n"><rect x="169" y="1390.3" width="73" height="7.4"/><text x="171" y="1395.4">不存在重复边，不存在顶点到自身的边</text></g>
<g id="n6-04" class="n"><rect x="147" y="1401.3" width="14" height="7.4"/><text x="149" y="1406.4">多重图</text></g>
<g id="n6-05" class="n"><rect x="169" y="1401.3" width="28" height="7.4"/><text x="171" y="1406.4">与简单图相对</text></g>
<g id="n6-06" class="n"><rect x="147" y="1415.3" width="42" height="7.4"/><text x="149" y="1420.4">完全图（简单完全图）</text></g>
<g id="n6-07" class="n"><rect x="198" y="1412.7" width="89" height="12.6"/><text x="200" y="1417.75">任意两个顶点之间都存在边，若是有向图，需要<tspan x="200" dy="5.3">存在两条方向相反的弧</tspan></text></g>
<g id="n6-08" class="n"><rect x="147" y="1431.3" width="9" height="7.4"/><text x="148.6" y="1436.4">子图</text></g>
<g id="n6-09" class="n"><rect x="165" y="1428.7" width="90" height="12.6"/><text x="167" y="1433.75">并非V和E的任何子集都能构成G的子图，因为有<tspan x="167" dy="5.3">可能不是图</tspan></text></g>
<g id="n6-10" class="c"><rect x="147" y="1445" width="88" height="8"/><text x="149" y="1450.4">无向图中讨论连通性，有向图中讨论强连通性</text></g>
<g id="n6-11" class="n"><rect x="147" y="1467.3" width="47" height="7.4"/><text x="149" y="1472.4">连通、连通图和连通分量</text></g>
<g id="n6-12" class="n"><rect x="203" y="1456.3" width="18" height="7.4"/><text x="205" y="1461.4">连通分量</text></g>
<g id="n6-13" class="n"><rect x="232" y="1456.3" width="66" height="7.4"/><text x="234" y="1461.4">无向图中的极大连通子图称为连通分量</text></g>
<g id="n6-14" class="n"><rect x="203" y="1467.3" width="89" height="7.4"/><text x="205" y="1472.4">一个图有n个顶点，如果边数小于n-1，那么必不连通</text></g>
<g id="n6-15" class="n"><rect x="203" y="1478.3" width="71" height="7.4"/><text x="205" y="1483.4">非连通图最多可以有C(n-1,2)条边</text></g>
<g id="n6-16" class="n"><rect x="147" y="1506.3" width="42" height="7.4"/><text x="149" y="1511.4">强连通图和强连通分量</text></g>
<g id="n6-17" class="n"><rect x="199" y="1492.3" width="22" height="7.4"/><text x="201" y="1497.4">强连通分量</text></g>
<g id="n6-18" class="n"><rect x="231" y="1489.7" width="88" height="12.6"/><text x="233" y="1494.75">有向图中的极大强连通子图称为有向图的强连通<tspan x="233" dy="5.3">分量</tspan></text></g>
<g id="n6-19" class="n"><rect x="199" y="1506.3" width="72" height="7.4"/><text x="201" y="1511.4">强连通图最少需要n条边（构成一个环）</text></g>
<g id="n6-20" class="n"><rect x="199" y="1517.3" width="13" height="7.4"/><text x="200.5" y="1522.4">强连通</text></g>
<g id="n6-21" class="n"><rect x="222" y="1517.3" width="70" height="7.4"/><text x="224" y="1522.4">a到b，b到a都有路径，则a、b是强连通的</text></g>
<g id="n6-22" class="n"><rect x="147" y="1532.3" width="34" height="7.4"/><text x="149" y="1537.4">生成树、生成森林</text></g>
<g id="n6-23" class="n"><rect x="190" y="1532.3" width="82" height="7.4"/><text x="192" y="1537.4">生成树：极小连通子图（n个点，n-1条边）</text></g>
<g id="n6-24" class="n"><rect x="147" y="1549.3" width="38" height="7.4"/><text x="149" y="1554.4">简单路径、简单回路</text></g>
<g id="n6-25" class="n"><rect x="194" y="1543.3" width="63" height="7.4"/><text x="196" y="1548.4">简单路径：顶点不重复出现的路径</text></g>
<g id="n6-26" class="n"><rect x="194" y="1554.2" width="89" height="12.6"/><text x="196" y="1559.25">除第一个顶点和最后一个顶点外，其余顶点不重<tspan x="196" dy="5.3">复出现的回路称为简单回路</tspan></text></g>
<g id="n6-27" class="n"><rect x="107" y="1594.3" width="19" height="7.4"/><text x="109" y="1599.4">图的存储</text></g>
<g id="n6-28" class="n"><rect x="135" y="1570.3" width="18" height="7.4"/><text x="137" y="1575.4">邻接矩阵</text></g>
<g id="n6-29" class="n"><rect x="162" y="1570.3" width="81" height="7.4"/><text x="164" y="1575.4">无向图邻接矩阵是一个对称矩阵（且唯一）</text></g>
<g id="n6-30" class="n"><rect x="135" y="1581.3" width="14" height="7.4"/><text x="137" y="1586.4">邻接表</text></g>
<g id="n6-31" class="n"><rect x="158" y="1581.3" width="44" height="7.4"/><text x="160" y="1586.4">类似于树的孩子表示法</text></g>
<g id="n6-32" class="c"><rect x="256" y="1576" width="76" height="8"/><text x="258" y="1581.4">邻接矩阵表示唯一，邻接表表示不唯一</text></g>
<g id="n6-33" class="n"><rect x="135" y="1594.3" width="18" height="7.4"/><text x="137" y="1599.4">十字链表</text></g>
<g id="n6-34" class="n"><rect x="162" y="1594.3" width="44" height="7.4"/><text x="164" y="1599.4">有向图的链式存储结构</text></g>
<g id="n6-35" class="n"><rect x="215" y="1591.7" width="89" height="12.6"/><text x="217" y="1596.75">十字链表表示不唯一，但一个十字链表可以唯一<tspan x="217" dy="5.3">确定一个图</tspan></text></g>
<g id="n6-36" class="n"><rect x="135" y="1614.3" width="22" height="7.4"/><text x="137" y="1619.4">邻接多重表</text></g>
<g id="n6-37" class="n"><rect x="167" y="1614.3" width="43" height="7.4"/><text x="169" y="1619.4">无向图的链式存储结构</text></g>
<g id="n6-38" class="c"><rect x="223" y="1608" width="93" height="19"/><text x="269.5" y="1613.6" class="mid">邻接表和邻接多重表的区别在于：同一条边在邻接<tspan x="269.5" dy="5.3">表里要用两个结点表示，而在邻接多重表中只有</tspan><tspan x="269.5" dy="5.3">一个结点</tspan></text></g>
<g id="n6-39" class="n"><rect x="107" y="1663.3" width="19" height="7.4"/><text x="109" y="1668.4">图的遍历</text></g>
<g id="n6-40" class="n"><rect x="135" y="1641.3" width="14" height="7.4"/><text x="137" y="1646.4">复杂度</text></g>
<g id="n6-41" class="n"><rect x="158" y="1630.3" width="27" height="7.4"/><text x="160" y="1635.4">遍历复杂度</text></g>
<g id="n6-42" class="n"><rect x="194" y="1630.3" width="23" height="7.4"/><text x="196" y="1635.4">空间复杂度</text></g>
<g id="n6-43" class="n"><rect x="226" y="1630.3" width="37" height="7.4"/><text x="228" y="1635.4">时间复杂度（矩阵）</text></g>
<g id="n6-44" class="n"><rect x="274" y="1630.3" width="34" height="7.4"/><text x="276" y="1635.4">时间复杂度（表）</text></g>
<g id="n6-45" class="n"><rect x="158" y="1641.3" width="27" height="7.4"/><text x="160" y="1646.4">广度优先遍历</text></g>
<g id="n6-46" class="n"><rect x="194" y="1641.3" width="24" height="7.4"/><text x="196" y="1646.4">O(|V|)</text></g>
<g id="n6-47" class="n"><rect x="228" y="1641.3" width="27" height="7.4"/><text x="230" y="1646.4">O(|V|^2)</text></g>
<g id="n6-48" class="n"><rect x="266" y="1641.3" width="29" height="7.4"/><text x="268" y="1646.4">O(|V|+|E|)</text></g>
<g id="n6-49" class="n"><rect x="158" y="1652.3" width="27" height="7.4"/><text x="160" y="1657.4">深度优先遍历</text></g>
<g id="n6-50" class="n"><rect x="194" y="1652.3" width="24" height="7.4"/><text x="196" y="1657.4">O(|V|)</text></g>
<g id="n6-51" class="n"><rect x="228" y="1652.3" width="27" height="7.4"/><text x="230" y="1657.4">O(|V|^2)</text></g>
<g id="n6-52" class="n"><rect x="266" y="1652.3" width="29" height="7.4"/><text x="268" y="1657.4">O(|V|+|E|)</text></g>
<g id="n6-53" class="n"><rect x="135" y="1669.3" width="27" height="7.4"/><text x="137" y="1674.4">广度优先遍历</text></g>
<g id="n6-54" class="n"><rect x="171" y="1663.3" width="47" height="7.4"/><text x="173" y="1668.4">BFS求单源最短路径问题</text></g>
<g id="n6-55" class="n"><rect x="171" y="1674.3" width="31" height="7.4"/><text x="173" y="1679.4">广度优先生成树</text></g>
<g id="n6-56"><text x="179" y="1685.6" style="font-size:2.8px" fill="#333">广度树高度 小于等于 深度树</text></g>
<g id="n6-57" class="n"><rect x="135" y="1685.3" width="27" height="7.4"/><text x="137" y="1690.4">深度优先遍历</text></g>
<g id="n6-58" class="n"><rect x="171" y="1685.3" width="31" height="7.4"/><text x="173" y="1690.4">深度优先生成树</text></g>
<g id="n6-59" class="c"><rect x="231" y="1672.2" width="88" height="12.6"/><text x="275" y="1677.25" class="mid">若是邻接矩阵，则BFS和DFS序列唯一<tspan x="275" dy="5.3">若是邻接表，则BFS和DFS序列不唯一</tspan></text></g>
<g id="n6-60" class="n"><rect x="107" y="1828.3" width="19" height="7.4"/><text x="109" y="1833.4">图的应用</text></g>
<g id="n6-61" class="n"><rect x="138" y="1702.3" width="41" height="7.4"/><text x="140" y="1707.4">最小生成树（不唯一）</text></g>
<g id="n6-62" class="n"><rect x="190" y="1696.3" width="37" height="7.4"/><text x="192" y="1701.4">Prim算法（选点）</text></g>
<g id="n6-63" class="n"><rect x="236" y="1696.3" width="54" height="7.4"/><text x="238" y="1701.4">时间复杂度：O(|V|^2)</text></g>
<g id="n6-64" class="n"><rect x="190" y="1707.3" width="43" height="7.4"/><text x="192" y="1712.4">Kruskal算法（选边）</text></g>
<g id="n6-65" class="n"><rect x="242" y="1707.3" width="65" height="7.4"/><text x="244" y="1712.4">时间复杂度：O(|E|log|E|)</text></g>
<g id="n6-66" class="n"><rect x="138" y="1777.3" width="19" height="7.4"/><text x="140" y="1782.4">最短路径</text></g>
<g id="n6-67" class="n"><rect x="166" y="1724.3" width="26" height="7.4"/><text x="168" y="1729.4">单源最短路径</text></g>
<g id="n6-68" class="n"><rect x="202" y="1719.3" width="35" height="7.4"/><text x="204" y="1724.4">BFS（无权图）</text></g>
<g id="n6-69" class="n"><rect x="246" y="1719.3" width="60" height="7.4"/><text x="248" y="1724.4">O(|V|^2)或O(|V|+|E|)</text></g>
<g id="n6-70" class="n"><rect x="202" y="1730.3" width="42" height="7.4"/><text x="204" y="1735.4">Dijkstra（带权图）</text></g>
<g id="n6-71" class="n"><rect x="253" y="1730.3" width="29" height="7.4"/><text x="255" y="1735.4">O(|V|^2)</text></g>
<g id="n6-72" class="n"><rect x="166" y="1744.3" width="39" height="7.4"/><text x="168" y="1749.4">各顶点间的最短路径</text></g>
<g id="n6-73" class="n"><rect x="213" y="1744.3" width="43" height="7.4"/><text x="215" y="1749.4">Floyd（带权或无权）</text></g>
<g id="n6-74" class="n"><rect x="265" y="1744.3" width="22" height="7.4"/><text x="267" y="1749.4">O(|V|^3)</text></g>
<g id="n6-75" class="c"><rect x="298" y="1741.7" width="95" height="12.6"/><text x="345.5" y="1746.75" class="mid">也可用Dijkstra算法求所有顶点间的最短路径，重<tspan x="345.5" dy="5.3">复|V|次即可，总的时间复杂度也是O(|V|^3)</tspan></text></g>
<g id="n6-76" class="n"><rect x="166" y="1780.3" width="18" height="7.4"/><text x="168" y="1785.4">适用情况</text></g>
<g id="n6-77" class="n"><rect x="193" y="1758.3" width="20" height="7.4"/><text x="195" y="1763.4">图类型</text></g>
<g id="n6-78" class="n"><rect x="222" y="1758.3" width="10" height="7.4"/><text x="223.5" y="1763.4">BFS</text></g>
<g id="n6-79" class="n"><rect x="241" y="1758.3" width="18" height="7.4"/><text x="243" y="1763.4">Dijkstra</text></g>
<g id="n6-80" class="n"><rect x="268" y="1758.3" width="14" height="7.4"/><text x="270" y="1763.4">Floyd</text></g>
<g id="n6-81" class="n"><rect x="193" y="1769.3" width="14" height="7.4"/><text x="195" y="1774.4">无权图</text></g>
<g id="n6-82" class="n"><rect x="216" y="1769.3" width="8" height="7.4"/><circle class="ok" cx="220" cy="1773" r="2.2"/></g>
<g id="n6-83" class="n"><rect x="233" y="1769.3" width="8" height="7.4"/><circle class="ok" cx="237" cy="1773" r="2.2"/></g>
<g id="n6-84" class="n"><rect x="249" y="1769.3" width="8" height="7.4"/><circle class="ok" cx="253" cy="1773" r="2.2"/></g>
<g id="n6-85" class="n"><rect x="193" y="1780.3" width="14" height="7.4"/><text x="195" y="1785.4">带权图</text></g>
<g id="n6-86" class="n"><rect x="216" y="1780.3" width="8" height="7.4"/><circle class="bad" cx="220" cy="1784" r="1.8"/></g>
<g id="n6-87" class="n"><rect x="233" y="1780.3" width="8" height="7.4"/><circle class="ok" cx="237" cy="1784" r="2.2"/></g>
<g id="n6-88" class="n"><rect x="249" y="1780.3" width="8" height="7.4"/><circle class="ok" cx="253" cy="1784" r="2.2"/></g>
<g id="n6-89" class="n"><rect x="193" y="1791.3" width="26" height="7.4"/><text x="195" y="1796.4">带负权值的图</text></g>
<g id="n6-90" class="n"><rect x="228" y="1791.3" width="8" height="7.4"/><circle class="bad" cx="232" cy="1795" r="1.8"/></g>
<g id="n6-91" class="n"><rect x="245" y="1791.3" width="8" height="7.4"/><circle class="bad" cx="249" cy="1795" r="1.8"/></g>
<g id="n6-92" class="n"><rect x="262" y="1791.3" width="8" height="7.4"/><circle class="ok" cx="266" cy="1795" r="2.2"/></g>
<g id="n6-93" class="n"><rect x="193" y="1802.3" width="35" height="7.4"/><text x="195" y="1807.4">带负权回路的图</text></g>
<g id="n6-94" class="n"><rect x="237" y="1802.3" width="8" height="7.4"/><circle class="bad" cx="241" cy="1806" r="1.8"/></g>
<g id="n6-95" class="n"><rect x="253" y="1802.3" width="8" height="7.4"/><circle class="bad" cx="257" cy="1806" r="1.8"/></g>
<g id="n6-96" class="n"><rect x="270" y="1802.3" width="8" height="7.4"/><circle class="bad" cx="274" cy="1806" r="1.8"/></g>
<g id="n6-97" class="n"><rect x="166" y="1824.3" width="44" height="7.4"/><text x="168" y="1829.4">Dijkstra和Prim的区别</text></g>
<g id="n6-98" class="n"><rect x="218" y="1812.7" width="89" height="12.6"/><text x="220" y="1817.75">Dijkstra中的dist记录的是当前顶点到源点的最短<tspan x="220" dy="5.3">路径长度</tspan></text></g>
<g id="n6-99" class="n"><rect x="218" y="1830.2" width="90" height="12.6"/><text x="220" y="1835.25">Prim中的lowCost记录的是当前顶点加入到已生成<tspan x="220" dy="5.3">树的最小代价</tspan></text></g>
<g id="n6-100" class="c"><rect x="139" y="1847" width="25" height="7.4"/><text x="141" y="1852.1">P228回顾</text></g>
<g id="n6-101" class="n"><rect x="138" y="1857.3" width="42" height="7.4"/><text x="140" y="1862.4">有向无环图（DAG图）</text></g>
<g id="n6-102" class="n"><rect x="138" y="1905.3" width="18" height="7.4"/><text x="140" y="1910.4">拓扑排序</text></g>
<g id="n6-103" class="n"><rect x="166" y="1872.3" width="14" height="7.4"/><text x="168" y="1877.4">AOV网</text></g>
<g id="n6-104" class="n"><rect x="166" y="1883.3" width="49" height="7.4"/><text x="168" y="1888.4">邻接矩阵：O(|V|^2)</text></g>
<g id="n6-105" class="n"><rect x="224" y="1883.3" width="46" height="7.4"/><text x="226" y="1888.4">邻接表：O(|V|+|E|)</text></g>
<g id="n6-106" class="n"><rect x="166" y="1894.3" width="34" height="7.4"/><text x="168" y="1899.4">DFS：逆拓扑排序</text></g>
<g id="n6-107" class="n"><rect x="166" y="1905.3" width="59" height="7.4"/><text x="168" y="1910.4">不存在拓扑排序，则必存在回路</text></g>
<g id="n6-108" class="n"><rect x="166" y="1916.7" width="88" height="12.6"/><text x="168" y="1921.75">拓扑排序不一定是唯一的，若是唯一的，也不一定<tspan x="168" dy="5.3">是线性的有向图</tspan></text></g>
<g id="n6-109" class="n"><rect x="166" y="1933.7" width="88" height="12.6"/><text x="168" y="1938.75">若一个有向图的邻接矩阵为三角矩阵，则必不存在<tspan x="168" dy="5.3">环，其拓扑排序必然存在</tspan></text></g>
<g id="n6-110" class="n"><rect x="138" y="1955.3" width="18" height="7.4"/><text x="140" y="1960.4">关键路径</text></g>
<g id="n6-111" class="n"><rect x="166" y="1949.3" width="14" height="7.4"/><text x="168" y="1954.4">AOE网</text></g>
<g id="n6-112" class="n"><rect x="166" y="1960.3" width="14" height="7.4"/><text x="168" y="1965.4">不唯一</text></g>
</g>

<g class="a1">
<g id="n7-01" class="n"><rect x="111" y="2014.3" width="18" height="7.4"/><text x="113" y="2019.4">基本概念</text></g>
<g id="n7-02" class="n"><rect x="138" y="1992.3" width="23" height="7.4"/><text x="140" y="1997.4">静态查找表</text></g>
<g id="n7-03" class="n"><rect x="170" y="1980.3" width="19" height="7.4"/><text x="172" y="1985.4">顺序查找</text></g>
<g id="n7-04" class="n"><rect x="170" y="1992.3" width="19" height="7.4"/><text x="172" y="1997.4">折半查找</text></g>
<g id="n7-05" class="n"><rect x="170" y="2003.3" width="19" height="7.4"/><text x="172" y="2008.4">散列查找</text></g>
<g id="n7-06" class="n"><rect x="138" y="2019.3" width="23" height="7.4"/><text x="140" y="2024.4">动态查找表</text></g>
<g id="n7-07" class="n"><rect x="170" y="2014.3" width="35" height="7.4"/><text x="172" y="2019.4">二叉排序树的查找</text></g>
<g id="n7-08" class="n"><rect x="170" y="2025.3" width="19" height="7.4"/><text x="172" y="2030.4">散列查找</text></g>
<g id="n7-09" class="c"><rect x="218" y="2014" width="79" height="8"/><text x="220" y="2019.4">二叉平衡树和B树都是二叉排序树的改进</text></g>
<g id="n7-10" class="n"><rect x="138" y="2036.3" width="45" height="7.4"/><text x="140" y="2041.4">查找长度-平均查找长度</text></g>
<g id="n7-11" class="n"><rect x="194" y="2036.3" width="73" height="7.4"/><text x="196" y="2041.4">所有元素的 比较次数*查找概率 之和</text></g>
<g id="n7-12" class="n"><rect x="111" y="2097.3" width="18" height="7.4"/><text x="113" y="2102.4">线性结构</text></g>
<g id="n7-13" class="n"><rect x="138" y="2061.3" width="42" height="7.4"/><text x="140" y="2066.4">顺序查找（线性查找）</text></g>
<g id="n7-14" class="n"><rect x="191" y="2047.3" width="26" height="7.4"/><text x="193" y="2052.4">哨兵的作用</text></g>
<g id="n7-15" class="n"><rect x="191" y="2058.7" width="88" height="12.6"/><text x="193" y="2063.75">若是有序表的顺序查找，可以在查找失败的时候<tspan x="193" dy="5.3">减少平均查找长度</tspan></text></g>
<g id="n7-16" class="n"><rect x="191" y="2075.3" width="47" height="7.4"/><text x="193" y="2080.4">适用于顺序表和链表</text></g>
<g id="n7-17" class="n"><rect x="138" y="2097.3" width="18" height="7.4"/><text x="140" y="2102.4">折半查找</text></g>
<g id="n7-18" class="n"><rect x="166" y="2086.3" width="67" height="7.4"/><text x="168" y="2091.4">仅适用于有序的顺序表（链表不行）</text></g>
<g id="n7-19" class="n"><rect x="166" y="2097.3" width="52" height="7.4"/><text x="168" y="2102.4">时间复杂度O(log2(n))</text></g>
<g id="n7-20" class="n"><rect x="166" y="2113.3" width="18" height="7.4"/><text x="168" y="2118.4">常见问题</text></g>
<g id="n7-21" class="n"><rect x="193" y="2113.3" width="44" height="7.4"/><text x="195" y="2118.4">查找的是left还是right</text></g>
<g id="n7-22" class="n"><rect x="245" y="2108.5" width="91" height="18"/><text x="247" y="2113.6">记住出循环时，最后left左边都是小于关键字<tspan x="247" dy="5.3">的，而right右边都是大于关键字的（P260下</tspan><tspan x="247" dy="5.3">面有总结）</tspan></text></g>
<g id="n7-23" class="n"><rect x="138" y="2141.3" width="50" height="7.4"/><text x="140" y="2146.4">分块查找（索引顺序查找）</text></g>
<g id="n7-24" class="n"><rect x="198" y="2130.3" width="52" height="7.4"/><text x="200" y="2135.4">特点：块内无序，块间有序</text></g>
<g id="n7-25" class="n"><rect x="259" y="2130.3" width="60" height="7.4"/><text x="261" y="2135.4">块间可以用折半查找或顺序查找</text></g>
<g id="n7-26" class="n"><rect x="198" y="2141.3" width="61" height="7.4"/><text x="200" y="2146.4">索引表记录的是块内最大的元素</text></g>
<g id="n7-27" class="n"><rect x="198" y="2152.3" width="54" height="7.4"/><text x="200" y="2157.4">分块查找：分成√n个块最好</text></g>
<g id="n7-28" class="n"><rect x="111" y="2302.3" width="18" height="7.4"/><text x="113" y="2307.4">树型结构</text></g>
<g id="n7-29" class="n"><rect x="138" y="2182.3" width="36" height="7.4"/><text x="140" y="2187.4">二叉排序树（BST）</text></g>
<g id="n7-30" class="n"><rect x="187" y="2168.3" width="18" height="7.4"/><text x="189" y="2173.4">查找长度</text></g>
<g id="n7-31" class="n"><rect x="214" y="2163.3" width="53" height="7.4"/><text x="216" y="2168.4">最好情况：O(log2(n))</text></g>
<g id="n7-32" class="n"><rect x="214" y="2174.3" width="36" height="7.4"/><text x="216" y="2179.4">最坏情况：O(n)</text></g>
<g id="n7-33" class="n"><rect x="187" y="2185.3" width="86" height="7.4"/><text x="189" y="2190.4">二分查找判定树唯一，二叉排序树的查找不唯一</text></g>
<g id="n7-34" class="n"><rect x="187" y="2196.3" width="35" height="7.4"/><text x="189" y="2201.4">插入和删除操作</text></g>
<g id="n7-35" class="n"><rect x="138" y="2219.3" width="37" height="7.4"/><text x="140" y="2224.4">二叉平衡树（AVL）</text></g>
<g id="n7-36" class="n"><rect x="187" y="2208.3" width="41" height="7.4"/><text x="189" y="2213.4">左右子树高度差不超过1</text></g>
<g id="n7-37" class="n"><rect x="187" y="2219.3" width="35" height="7.4"/><text x="189" y="2224.4">插入和删除操作</text></g>
<g id="n7-38" class="n"><rect x="187" y="2230.3" width="56" height="7.4"/><text x="189" y="2235.4">平均查找长度O(log2(n))</text></g>
<g id="n7-39" class="n"><rect x="138" y="2302.3" width="14" height="7.4"/><text x="140" y="2307.4">红黑树</text></g>
<g id="n7-40" class="n"><rect x="162" y="2259.3" width="18" height="7.4"/><text x="164" y="2264.4">基本概念</text></g>
<g id="n7-41" class="n"><rect x="189" y="2241.3" width="14" height="7.4"/><text x="191" y="2246.4">左根右</text></g>
<g id="n7-42" class="n"><rect x="213" y="2241.3" width="50" height="7.4"/><text x="215" y="2246.4">因为红黑树也是二叉排序树</text></g>
<g id="n7-43" class="n"><rect x="189" y="2252.3" width="14" height="7.4"/><text x="191" y="2257.4">根叶黑</text></g>
<g id="n7-44" class="n"><rect x="213" y="2252.3" width="50" height="7.4"/><text x="215" y="2257.4">根结点和叶结点都是黑色的</text></g>
<g id="n7-45" class="n"><rect x="189" y="2263.3" width="14" height="7.4"/><text x="191" y="2268.4">不红红</text></g>
<g id="n7-46" class="n"><rect x="213" y="2263.3" width="47" height="7.4"/><text x="215" y="2268.4">不存在两个相邻的红结点</text></g>
<g id="n7-47" class="n"><rect x="189" y="2277.8" width="14" height="7.4"/><text x="191" y="2282.9">黑路同</text></g>
<g id="n7-48" class="n"><rect x="213" y="2275.2" width="89" height="12.6"/><text x="215" y="2280.25">从任一结点到叶结点的简单路径上，所含黑结点<tspan x="215" dy="5.3">的数量相同</tspan></text></g>
<g id="n7-49" class="n"><rect x="162" y="2302.3" width="18" height="7.4"/><text x="164" y="2307.4">基本结论</text></g>
<g id="n7-50" class="n"><rect x="189" y="2291.3" width="87" height="7.4"/><text x="191" y="2296.4">从根到叶结点的最长路径不大于最短路径的2倍</text></g>
<g id="n7-51" class="n"><rect x="189" y="2302.3" width="87" height="7.4"/><text x="191" y="2307.4">有n个内部结点的红黑树高度h&lt;=2log2(n+1)</text></g>
<g id="n7-52" class="n"><rect x="189" y="2313.3" width="63" height="7.4"/><text x="191" y="2318.4">新插入红黑树中的结点初始为红色</text></g>
<g id="n7-53" class="n"><rect x="162" y="2324.3" width="35" height="7.4"/><text x="164" y="2329.4">插入和删除操作</text></g>
<g id="n7-54" class="n"><rect x="162" y="2336.3" width="10" height="7.4"/><text x="163.3" y="2341.4">其他</text></g>
<g id="n7-55" class="n"><rect x="180" y="2336.3" width="77" height="7.4"/><text x="182" y="2341.4">相比于红黑树，AVL的查询效率更高</text></g>
<g id="n7-56" class="c"><rect x="314" y="2264.3" width="93" height="23.4"/><text x="360.5" y="2269.45" class="mid">平衡二叉树：适用于以查为主、很少插入、删除<tspan x="360.5" dy="5.3">的场景</tspan><tspan x="360.5" dy="5.3">红黑树：适用于频繁插入、删除的场景，实用性</tspan><tspan x="360.5" dy="5.3">更强</tspan></text></g>
<g id="n7-57" class="n"><rect x="138" y="2408.3" width="21" height="7.4"/><text x="140" y="2413.4">B树、B+树</text></g>
<g id="n7-58" class="n"><rect x="169" y="2377.3" width="44" height="7.4"/><text x="171" y="2382.4">B树（多路平衡查找树）</text></g>
<g id="n7-59" class="n"><rect x="225" y="2364.3" width="18" height="7.4"/><text x="227" y="2369.4">基本概念</text></g>
<g id="n7-60" class="n"><rect x="252" y="2347.7" width="84" height="12.6"/><text x="254" y="2352.75">除根外所有非叶结点至少有⌈m/2⌉棵子树，即至<tspan x="254" dy="5.3">少含有⌈m/2⌉-1个关键字</tspan></text></g>
<g id="n7-61" class="n"><rect x="252" y="2364.3" width="72" height="7.4"/><text x="254" y="2369.4">若根结点不是终端结点，则至少有两棵子树</text></g>
<g id="n7-62" class="n"><rect x="252" y="2374.7" width="88" height="12.6"/><text x="254" y="2379.75">树中每个结点至多有m棵子树，即至多含有m-1个<tspan x="254" dy="5.3">关键字</tspan></text></g>
<g id="n7-63" class="n"><rect x="224" y="2391.3" width="37" height="7.4"/><text x="226" y="2396.4">插入和删除操作</text></g>
<g id="n7-64" class="n"><rect x="170" y="2408.3" width="11" height="7.4"/><text x="171.5" y="2413.4">B+树</text></g>
<g id="n7-65" class="n"><rect x="190" y="2402.3" width="34" height="7.4"/><text x="192" y="2407.4">应用场景：数据库</text></g>
<g id="n7-66" class="n"><rect x="190" y="2413.3" width="58" height="7.4"/><text x="192" y="2418.4">所有非叶结点仅起索引作用</text></g>
<g id="n7-67" class="n"><rect x="170" y="2439.3" width="17" height="7.4"/><text x="171.5" y="2444.4">常见问题</text></g>
<g id="n7-68" class="n"><rect x="197" y="2425" width="90" height="18"/><text x="199" y="2430.1">B树中所有结点的孩子个数最大值为B树的阶，但<tspan x="199" dy="5.3">是题目出现m阶B树时，不一定要求至少有一个</tspan><tspan x="199" dy="5.3">结点的孩子数为m</tspan></text></g>
<g id="n7-69" class="n"><rect x="197" y="2446.2" width="89" height="12.6"/><text x="199" y="2451.25">B+树支持顺序查找和随机查找，而B树仅支持随机<tspan x="199" dy="5.3">查找</tspan></text></g>
<g id="n7-70" class="n"><rect x="111" y="2550.3" width="14" height="7.4"/><text x="113" y="2555.4">散列表</text></g>
<g id="n7-71" class="n"><rect x="134" y="2479.3" width="27" height="7.4"/><text x="136" y="2484.4">散列函数构造</text></g>
<g id="n7-72" class="n"><rect x="170" y="2463.3" width="23" height="7.4"/><text x="172" y="2468.4">直接定址法</text></g>
<g id="n7-73" class="n"><rect x="170" y="2474.3" width="23" height="7.4"/><text x="172" y="2479.4">除留余数法</text></g>
<g id="n7-74" class="n"><rect x="170" y="2485.3" width="23" height="7.4"/><text x="172" y="2490.4">数字分析法</text></g>
<g id="n7-75" class="n"><rect x="170" y="2496.3" width="23" height="7.4"/><text x="172" y="2501.4">平方取中法</text></g>
<g id="n7-76" class="c"><rect x="178" y="2507" width="84" height="8"/><text x="180" y="2512.4">不能随便物理删除已有元素，要做逻辑删除</text></g>
<g id="n7-77" class="n"><rect x="134" y="2550.3" width="31" height="7.4"/><text x="136" y="2555.4">处理冲突的方法</text></g>
<g id="n7-78" class="n"><rect x="178" y="2535.3" width="22" height="7.4"/><text x="180" y="2540.4">开放定址法</text></g>
<g id="n7-79" class="n"><rect x="208" y="2518.3" width="23" height="7.4"/><text x="210" y="2523.4">线性探测法</text></g>
<g id="n7-80" class="n"><rect x="240" y="2518.3" width="40" height="7.4"/><text x="242" y="2523.4">聚集（或堆积）现象</text></g>
<g id="n7-81" class="n"><rect x="208" y="2529.3" width="23" height="7.4"/><text x="210" y="2534.4">平方探测法</text></g>
<g id="n7-82" class="n"><rect x="208" y="2541.3" width="23" height="7.4"/><text x="210" y="2546.4">双散列法</text></g>
<g id="n7-83" class="n"><rect x="208" y="2552.3" width="27" height="7.4"/><text x="210" y="2557.4">伪随机序列法</text></g>
<g id="n7-84" class="n"><rect x="178" y="2566.3" width="33" height="7.4"/><text x="180" y="2571.4">拉链法（链接法）</text></g>
<g id="n7-85" class="c"><rect x="295" y="2539.7" width="69" height="12.6"/><text x="329.5" y="2544.75" class="mid">开放定址法会产生聚集（堆积）<tspan x="329.5" dy="5.3">现象，拉链法不会</tspan></text></g>
<g id="n7-86" class="n"><rect x="134" y="2588.3" width="47" height="7.4"/><text x="136" y="2593.4">查找效率取决于三个因素</text></g>
<g id="n7-87" class="n"><rect x="191" y="2577.3" width="18" height="7.4"/><text x="193" y="2582.4">散列函数</text></g>
<g id="n7-88" class="n"><rect x="191" y="2588.3" width="31" height="7.4"/><text x="193" y="2593.4">处理冲突的方法</text></g>
<g id="n7-89" class="n"><rect x="191" y="2599.3" width="18" height="7.4"/><text x="193" y="2604.4">装填因子</text></g>
<g id="n7-90" class="n"><rect x="218" y="2599.3" width="59" height="7.4"/><text x="220" y="2604.4">α = 表中记录数n / 散列表长度m</text></g>
<g id="n7-91" class="n"><rect x="134" y="2624.3" width="18" height="7.4"/><text x="136" y="2629.4">常见问题</text></g>
<g id="n7-92" class="n"><rect x="162" y="2611.3" width="88" height="7.4"/><text x="164" y="2616.4">关键字插入过程中，第一次不冲突也算一次比较</text></g>
<g id="n7-93" class="n"><rect x="162" y="2622.2" width="89" height="12.6"/><text x="164" y="2627.25">（多数书的计算方法）在关键字的比较次数中包括<tspan x="164" dy="5.3">与空位置的比较，即空位置也算一次比较</tspan></text></g>
<g id="n7-94" class="n"><rect x="162" y="2638.5" width="91" height="18"/><text x="164" y="2643.6">ASL成功 = 查找次数 / 元素个数<tspan x="164" dy="5.3">ASL失败 = 查找次数 / 散列函数的可能个数（Mod后</tspan><tspan x="164" dy="5.3">面的数字）</tspan></text></g>
</g>

<g class="a2">
<g id="n8-01" class="n"><rect x="112" y="3047.3" width="19" height="7.4"/><text x="114" y="3052.4">内部排序</text></g>
<g id="n8-02" class="n"><rect x="140" y="2768.3" width="19" height="7.4"/><text x="142" y="2773.4">插入排序</text></g>
<g id="n8-03" class="n"><rect x="171" y="2699.3" width="26" height="7.4"/><text x="173" y="2704.4">直接插入排序</text></g>
<g id="n8-04" class="n"><rect x="207" y="2672.3" width="32" height="7.4"/><text x="209" y="2677.4">空间复杂度O(1)</text></g>
<g id="n8-05" class="n"><rect x="207" y="2694.3" width="23" height="7.4"/><text x="209" y="2699.4">时间复杂度</text></g>
<g id="n8-06" class="n"><rect x="239" y="2683.3" width="19" height="7.4"/><text x="241" y="2688.4">最好O(n)</text></g>
<g id="n8-07" class="n"><rect x="239" y="2694.3" width="23" height="7.4"/><text x="241" y="2699.4">最坏O(n^2)</text></g>
<g id="n8-08" class="n"><rect x="239" y="2705.3" width="23" height="7.4"/><text x="241" y="2710.4">平均O(n^2)</text></g>
<g id="n8-09" class="n"><rect x="207" y="2716.3" width="11" height="7.4"/><text x="208.6" y="2721.4">稳定</text></g>
<g id="n8-10" class="n"><rect x="207" y="2728.3" width="51" height="7.4"/><text x="209" y="2733.4">适用于顺序存储和链式存储</text></g>
<g id="n8-11" class="n"><rect x="171" y="2759.3" width="26" height="7.4"/><text x="173" y="2764.4">折半插入排序</text></g>
<g id="n8-12" class="n"><rect x="207" y="2742.3" width="32" height="7.4"/><text x="209" y="2747.4">空间复杂度O(1)</text></g>
<g id="n8-13" class="n"><rect x="207" y="2753.3" width="44" height="7.4"/><text x="209" y="2758.4">时间复杂度仍为O(n^2)</text></g>
<g id="n8-14" class="n"><rect x="207" y="2764.3" width="11" height="7.4"/><text x="208.6" y="2769.4">稳定</text></g>
<g id="n8-15" class="n"><rect x="207" y="2775.3" width="35" height="7.4"/><text x="209" y="2780.4">仅适用于顺序存储</text></g>
<g id="n8-16" class="n"><rect x="171" y="2803.3" width="49" height="7.4"/><text x="173" y="2808.4">希尔排序（缩小增量排序）</text></g>
<g id="n8-17" class="n"><rect x="232" y="2786.3" width="32" height="7.4"/><text x="234" y="2791.4">空间复杂度O(1)</text></g>
<g id="n8-18" class="n"><rect x="232" y="2798.3" width="85" height="7.4"/><text x="234" y="2803.4">时间复杂度依赖于增量序列（最坏达到O(n^2)）</text></g>
<g id="n8-19" class="n"><rect x="232" y="2809.3" width="15" height="7.4"/><text x="234" y="2814.4">不稳定</text></g>
<g id="n8-20" class="n"><rect x="232" y="2820.3" width="35" height="7.4"/><text x="234" y="2825.4">仅适用于顺序存储</text></g>
<g id="n8-21" class="n"><rect x="171" y="2836.3" width="18" height="7.4"/><text x="173" y="2841.4">常见问题</text></g>
<g id="n8-22" class="n"><rect x="198" y="2832.5" width="89" height="18"/><text x="200" y="2837.6">折半插入是对直接插入排序的改进，它仅减少了<tspan x="200" dy="5.3">比较次数，移动次数并未发生变化，时间复杂度仍</tspan><tspan x="200" dy="5.3">为O(n^2)</tspan></text></g>
<g id="n8-23"><text x="131" y="2792.5" text-anchor="middle" style="font-size:3.3px" fill="#333">内容一样，但是还是有区别的，冒泡在每一趟能确定<tspan x="131" dy="4.6">一个最终位置，但是直接插入排序不行</tspan></text></g>
<g id="n8-24" class="n"><rect x="140" y="2930.3" width="19" height="7.4"/><text x="142" y="2935.4">交换排序</text></g>
<g id="n8-25" class="n"><rect x="171" y="2884.3" width="18" height="7.4"/><text x="173" y="2889.4">冒泡排序</text></g>
<g id="n8-26" class="n"><rect x="198" y="2856.3" width="32" height="7.4"/><text x="200" y="2861.4">空间复杂度O(1)</text></g>
<g id="n8-27" class="n"><rect x="198" y="2878.3" width="22" height="7.4"/><text x="200" y="2883.4">时间复杂度</text></g>
<g id="n8-28" class="n"><rect x="231" y="2867.3" width="19" height="7.4"/><text x="233" y="2872.4">最好O(n)</text></g>
<g id="n8-29" class="n"><rect x="231" y="2878.3" width="23" height="7.4"/><text x="233" y="2883.4">最坏O(n^2)</text></g>
<g id="n8-30" class="n"><rect x="231" y="2889.3" width="23" height="7.4"/><text x="233" y="2894.4">平均O(n^2)</text></g>
<g id="n8-31" class="n"><rect x="198" y="2901.3" width="11" height="7.4"/><text x="199.6" y="2906.4">稳定</text></g>
<g id="n8-32" class="n"><rect x="198" y="2912.3" width="52" height="7.4"/><text x="200" y="2917.4">适用于顺序存储和链式存储</text></g>
<g id="n8-33" class="n"><rect x="171" y="2976.3" width="18" height="7.4"/><text x="173" y="2981.4">快速排序</text></g>
<g id="n8-34" class="n"><rect x="198" y="2926.3" width="35" height="7.4"/><text x="200" y="2931.4">基本思想：分治法</text></g>
<g id="n8-35" class="n"><rect x="198" y="2937.3" width="41" height="7.4"/><text x="200" y="2942.4">一次划分 != 一趟排序</text></g>
<g id="n8-36" class="n"><rect x="198" y="2960.3" width="22" height="7.4"/><text x="200" y="2965.4">空间复杂度</text></g>
<g id="n8-37" class="n"><rect x="231" y="2948.3" width="31" height="7.4"/><text x="233" y="2953.4">最好O(log2(n))</text></g>
<g id="n8-38" class="n"><rect x="231" y="2960.3" width="19" height="7.4"/><text x="233" y="2965.4">最坏O(n)</text></g>
<g id="n8-39" class="n"><rect x="231" y="2971.3" width="31" height="7.4"/><text x="233" y="2976.4">平均O(log2(n))</text></g>
<g id="n8-40" class="n"><rect x="198" y="2993.3" width="22" height="7.4"/><text x="200" y="2998.4">时间复杂度</text></g>
<g id="n8-41" class="n"><rect x="231" y="2982.3" width="23" height="7.4"/><text x="233" y="2987.4">最坏O(n^2)</text></g>
<g id="n8-42" class="n"><rect x="263" y="2982.3" width="48" height="7.4"/><text x="265" y="2987.4">元素基本有序或基本逆序</text></g>
<g id="n8-43" class="n"><rect x="231" y="2993.3" width="33" height="7.4"/><text x="233" y="2998.4">最好O(nlog2(n))</text></g>
<g id="n8-44" class="n"><rect x="231" y="3004.3" width="33" height="7.4"/><text x="233" y="3009.4">平均O(nlog2(n))</text></g>
<g id="n8-45" class="n"><rect x="198" y="3015.3" width="15" height="7.4"/><text x="200" y="3020.4">不稳定</text></g>
<g id="n8-46" class="n"><rect x="198" y="3026.3" width="31" height="7.4"/><text x="200" y="3031.4">适用于顺序存储</text></g>
<g id="n8-47" class="n"><rect x="140" y="3109.3" width="19" height="7.4"/><text x="142" y="3114.4">选择排序</text></g>
<g id="n8-48" class="n"><rect x="168" y="3063.3" width="26" height="7.4"/><text x="170" y="3068.4">简单选择排序</text></g>
<g id="n8-49" class="n"><rect x="204" y="3038.3" width="32" height="7.4"/><text x="206" y="3043.4">空间复杂度O(1)</text></g>
<g id="n8-50" class="n"><rect x="204" y="3056.3" width="23" height="7.4"/><text x="206" y="3061.4">时间复杂度</text></g>
<g id="n8-51" class="n"><rect x="235" y="3056.3" width="28" height="7.4"/><text x="237" y="3061.4">始终是O(n^2)</text></g>
<g id="n8-52" class="n"><rect x="273" y="3049.3" width="80" height="7.4"/><text x="275" y="3054.4">元素间的比较次数与序列的初始状态无关</text></g>
<g id="n8-53" class="n"><rect x="273" y="3060.7" width="37" height="12.6"/><text x="275" y="3065.75">比较次数为O(n^2)<tspan x="275" dy="5.3">移动次数为O(n)</tspan></text></g>
<g id="n8-54" class="n"><rect x="204" y="3077.3" width="15" height="7.4"/><text x="206" y="3082.4">不稳定</text></g>
<g id="n8-55" class="n"><rect x="204" y="3088.3" width="52" height="7.4"/><text x="206" y="3093.4">适用于顺序存储和链式存储</text></g>
<g id="n8-56" class="n"><rect x="168" y="3155.3" width="14" height="7.4"/><text x="170" y="3160.4">堆排序</text></g>
<g id="n8-57" class="n"><rect x="192" y="3099.3" width="35" height="7.4"/><text x="194" y="3104.4">是一棵完全二叉树</text></g>
<g id="n8-58" class="n"><rect x="192" y="3110.3" width="41" height="7.4"/><text x="194" y="3115.4">大根堆：根 &gt;= 左、右</text></g>
<g id="n8-59" class="n"><rect x="192" y="3121.3" width="22" height="7.4"/><text x="194" y="3126.4">插入操作</text></g>
<g id="n8-60" class="n"><rect x="192" y="3133.3" width="31" height="7.4"/><text x="194" y="3138.4">空间复杂度O(1)</text></g>
<g id="n8-61" class="n"><rect x="192" y="3155.3" width="22" height="7.4"/><text x="194" y="3160.4">时间复杂度</text></g>
<g id="n8-62" class="n"><rect x="223" y="3144.3" width="44" height="7.4"/><text x="225" y="3149.4">建堆时间复杂度为O(n)</text></g>
<g id="n8-63" class="n"><rect x="223" y="3155.3" width="83" height="7.4"/><text x="225" y="3160.4">调整堆的时间复杂度O(log2(n))，共n-1趟</text></g>
<g id="n8-64" class="n"><rect x="223" y="3167" width="83" height="18"/><text x="225" y="3172.1">最好最坏和平均：堆排序的时间复杂度为O(n<tspan x="225" dy="5.3">log2(n))</tspan><tspan x="225" dy="5.3">O(n) + O(nlog2(n)) = O(nlog2(n))</tspan></text></g>
<g id="n8-65" class="n"><rect x="192" y="3188.3" width="15" height="7.4"/><text x="194" y="3193.4">不稳定</text></g>
<g id="n8-66" class="n"><rect x="192" y="3199.3" width="53" height="7.4"/><text x="194" y="3204.4">适用于大量数据找前k个最值</text></g>
<g id="n8-67" class="n"><rect x="140" y="3253.3" width="40" height="7.4"/><text x="142" y="3258.4">归并排序和基数排序</text></g>
<g id="n8-68" class="n"><rect x="188" y="3227.3" width="19" height="7.4"/><text x="190" y="3232.4">归并排序</text></g>
<g id="n8-69" class="n"><rect x="217" y="3210.3" width="30" height="7.4"/><text x="219" y="3215.4">空间复杂度O(n)</text></g>
<g id="n8-70" class="n"><rect x="217" y="3222" width="87" height="18"/><text x="219" y="3227.1">每趟归并时间复杂度为O(n)，共进行⌈log2(n)⌉趟<tspan x="219" dy="5.3">归并</tspan><tspan x="219" dy="5.3">所以时间复杂度为O(nlog2(n))</tspan></text></g>
<g id="n8-71" class="n"><rect x="314" y="3224.7" width="91" height="12.6"/><text x="316" y="3229.75">性能与输入元素序列无关，时间复杂度总是O(n<tspan x="316" dy="5.3">log2(n))</tspan></text></g>
<g id="n8-72" class="n"><rect x="217" y="3243.7" width="86" height="12.6"/><text x="219" y="3248.75">稳定！平均时间复杂度为O(nlog2(n))的排序算法<tspan x="219" dy="5.3">中只有它是稳定的</tspan></text></g>
<g id="n8-73" class="n"><rect x="188" y="3279.3" width="19" height="7.4"/><text x="190" y="3284.4">基数排序</text></g>
<g id="n8-74" class="n"><rect x="217" y="3260.2" width="90" height="12.6"/><text x="219" y="3265.25">空间复杂度O(r)，r：每组分配的队列数量，对十<tspan x="219" dy="5.3">进制来说，r=10</tspan></text></g>
<g id="n8-75" class="n"><rect x="217" y="3276.7" width="84" height="12.6"/><text x="219" y="3281.75">时间复杂度 O(d(n+r))<tspan x="219" dy="5.3">d趟分配和收集，分配需要O(n)，收集需要O(r)</tspan></text></g>
<g id="n8-76" class="n"><rect x="309" y="3279.3" width="43" height="7.4"/><text x="311" y="3284.4">与序列的初始状态无关</text></g>
<g id="n8-77" class="n"><rect x="217" y="3293.3" width="11" height="7.4"/><text x="218.6" y="3298.4">稳定</text></g>
<g id="n8-78" class="n"><rect x="140" y="3325.3" width="60" height="7.4"/><text x="142" y="3330.4">各种内部排序算法的比较和应用</text></g>
<g id="n8-79" class="n"><rect x="208" y="3304.5" width="90" height="18"/><text x="210" y="3309.6">排序过程中，每趟都能确定一个元素在最终位置<tspan x="210" dy="5.3">的有冒泡排序、简单选择排序、堆排序、快速排</tspan><tspan x="210" dy="5.3">序</tspan></text></g>
<g id="n8-80" class="n"><rect x="307" y="3307.2" width="88" height="12.6"/><text x="309" y="3312.25">需要得到前k小元素的顺序序列时可采用的排序算<tspan x="309" dy="5.3">法有冒泡、堆、简单选择排序</tspan></text></g>
<g id="n8-81" class="n"><rect x="208" y="3325.3" width="23" height="7.4"/><text x="210" y="3330.4">时间复杂度</text></g>
<g id="n8-82" class="n"><rect x="208" y="3337.3" width="23" height="7.4"/><text x="210" y="3342.4">空间复杂度</text></g>
<g id="n8-83" class="n"><rect x="208" y="3348.3" width="15" height="7.4"/><text x="210" y="3353.4">稳定性</text></g>
<g id="n8-84" class="c"><rect x="245" y="3337" width="37" height="8"/><text x="247" y="3342.4">P336表有总结</text></g>
<g id="n8-85" class="n"><rect x="112" y="3457.3" width="19" height="7.4"/><text x="114" y="3462.4">外部排序</text></g>
<g id="n8-86" class="n"><rect x="140" y="3358.3" width="78" height="7.4"/><text x="142" y="3363.4">主要时间代价：访问磁盘次数，即I/O次数</text></g>
<g id="n8-87" class="n"><rect x="140" y="3414.3" width="27" height="7.4"/><text x="142" y="3419.4">多路归并排序</text></g>
<g id="n8-88" class="n"><rect x="176" y="3383.3" width="18" height="7.4"/><text x="178" y="3388.4">基本流程</text></g>
<g id="n8-89" class="n"><rect x="203" y="3370" width="89" height="18"/><text x="205" y="3375.1">1.根据内存缓冲区大小，把外存的文件分为若干<tspan x="205" dy="5.3">个子文件，然后读入内存进行排序，重新写回外</tspan><tspan x="205" dy="5.3">存，这些有序子文件称为：归并段或顺串。</tspan></text></g>
<g id="n8-90" class="n"><rect x="203" y="3391.3" width="40" height="7.4"/><text x="205" y="3396.4">2.对归并段进行归并</text></g>
<g id="n8-91" class="c"><rect x="305" y="3378.7" width="93" height="12.6"/><text x="351.5" y="3383.75" class="mid">归并趟：每次读入若以块为单位，则一个归并段<tspan x="351.5" dy="5.3">可以拆分为多个块进行读入</tspan></text></g>
<g id="n8-92" class="n"><rect x="176" y="3411.7" width="87" height="12.6"/><text x="178" y="3416.75">优化思路：增大归并路数k，或减少初始归并段数<tspan x="178" dy="5.3">r，进而减少读写磁盘次数</tspan></text></g>
<g id="n8-93" class="n"><rect x="272" y="3414.3" width="88" height="7.4"/><text x="274" y="3419.4">但是，不是能让归并路数k越大越好，代价如下</text></g>
<g id="n8-94" class="n"><rect x="368" y="3403.2" width="90" height="12.6"/><text x="370" y="3408.25">Problem 1：进行k路归并时，需要在内存开辟k个<tspan x="370" dy="5.3">输入缓冲区，内存开销增加</tspan></text></g>
<g id="n8-95" class="n"><rect x="368" y="3419.7" width="90" height="12.6"/><text x="370" y="3424.75">Problem 2：每挑选一个关键字需要对比关键字(k<tspan x="370" dy="5.3">-1)次，内部归并所需时间增加</tspan></text></g>
<g id="n8-96" class="n"><rect x="176" y="3447.3" width="18" height="7.4"/><text x="178" y="3452.4">并行问题</text></g>
<g id="n8-97" class="n"><rect x="203" y="3435.7" width="89" height="12.6"/><text x="205" y="3440.75">对于k路平衡归并排序，如果不需要进行并行处<tspan x="205" dy="5.3">理，k个输入缓冲区+1个输出缓冲区即可</tspan></text></g>
<g id="n8-98" class="n"><rect x="203" y="3452.5" width="90" height="18"/><text x="205" y="3457.6">为实现输入/内部归并/输出并行处理，需要设置<tspan x="205" dy="5.3">2k个输入缓冲区和2个输出缓冲区，以便在执行</tspan><tspan x="205" dy="5.3">内部归并时，能同时进行输入/输出操作</tspan></text></g>
<g id="n8-99" class="n"><rect x="140" y="3490.3" width="50" height="7.4"/><text x="142" y="3495.4">败者树（内部排序的优化）</text></g>
<g id="n8-100" class="n"><rect x="201" y="3474.7" width="89" height="12.6"/><text x="203" y="3479.75">为解决增加归并路数而导致的内部排序时间增加<tspan x="203" dy="5.3">（即上面的Problem 2）</tspan></text></g>
<g id="n8-101" class="n"><rect x="201" y="3490.3" width="43" height="7.4"/><text x="203" y="3495.4">可视为一棵完全二叉树</text></g>
<g id="n8-102" class="n"><rect x="201" y="3502.5" width="91" height="18"/><text x="203" y="3507.6">原因：每次对比不一定要所有元素进行比较（因为<tspan x="203" dy="5.3">每次比较上次已经确定输出的元素大小了）进一</tspan><tspan x="203" dy="5.3">步优化</tspan></text></g>
<g id="n8-103" class="n"><rect x="300" y="3507.8" width="64" height="7.4"/><text x="302" y="3512.9">即优化的是多条路元素的比较次数</text></g>
<g id="n8-104" class="n"><rect x="140" y="3526.3" width="63" height="7.4"/><text x="142" y="3531.4">置换-选择排序（生成初始归并段）</text></g>
<g id="n8-105" class="n"><rect x="215" y="3523.7" width="88" height="12.6"/><text x="217" y="3528.75">之前的方法依赖于内部排序时可用内存工作区的<tspan x="217" dy="5.3">大小</tspan></text></g>
<g id="n8-106" class="n"><rect x="140" y="3556.3" width="23" height="7.4"/><text x="142" y="3561.4">最佳归并树</text></g>
<g id="n8-107" class="n"><rect x="171" y="3540.7" width="91" height="12.6"/><text x="173" y="3545.75">经过置换-选择排序后，得到的是长度不等的初始<tspan x="173" dy="5.3">归并段，如何组织归并顺序使得I/O次数最少？</tspan></text></g>
<g id="n8-108" class="n"><rect x="171" y="3556.3" width="90" height="7.4"/><text x="173" y="3561.4">本质上是哈夫曼树的推广，推广成m叉树的情况</text></g>
<g id="n8-109" class="n"><rect x="171" y="3578.3" width="81" height="7.4"/><text x="173" y="3583.4">若初始归并段不足以构成一棵严格k叉树时</text></g>
<g id="n8-110" class="n"><rect x="260" y="3578.3" width="31" height="7.4"/><text x="262" y="3583.4">添加虚段的情况</text></g>
<g id="n8-111" class="n"><rect x="299" y="3567.3" width="79" height="7.4"/><text x="301" y="3572.4">若(n0 - 1)%(k - 1) = 0，不需要添加虚段</text></g>
<g id="n8-112" class="n"><rect x="299" y="3578.3" width="61" height="7.4"/><text x="301" y="3583.4">若(n0 - 1)%(k - 1) = u ≠ 0</text></g>
<g id="n8-113" class="n"><rect x="368" y="3578.3" width="75" height="7.4"/><text x="370" y="3583.4">则需要补充(k - u - 1)个虚段</text></g>
<g id="n8-114" class="n"><rect x="299" y="3590.3" width="44" height="7.4"/><text x="301" y="3595.4">虚段的长度设为0</text></g>
</g>

<g id="footer"><text x="237" y="3623.5" text-anchor="middle" fill="#d2d2d2" style="font-family:Inter,'Noto Sans',sans-serif;font-size:7.2px;font-weight:600">Presented with Xmind</text></g>
</svg>
